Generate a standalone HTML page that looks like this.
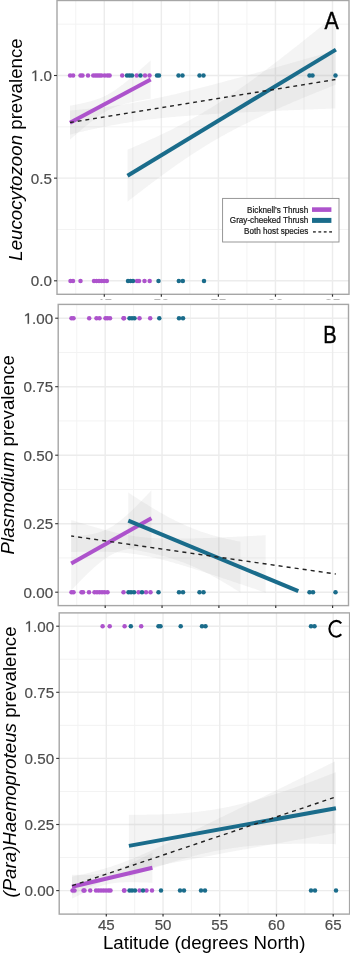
<!DOCTYPE html>
<html><head><meta charset="utf-8"><style>
html,body{margin:0;padding:0;background:#fff;}
svg{display:block;will-change:transform;filter:blur(0.3px);}
text{font-family:"Liberation Sans",sans-serif;}
</style></head><body>
<svg width="350" height="953" viewBox="0 0 350 953">
<rect width="350" height="953" fill="#fff"/>
<clipPath id="clipA"><rect x="57.0" y="0.5" width="292.0" height="293.8"/></clipPath>
<g clip-path="url(#clipA)">
<line x1="75.78" y1="0.5" x2="75.78" y2="294.3" stroke="#F3F3F3" stroke-width="1.0"/>
<line x1="132.82" y1="0.5" x2="132.82" y2="294.3" stroke="#F3F3F3" stroke-width="1.0"/>
<line x1="189.88" y1="0.5" x2="189.88" y2="294.3" stroke="#F3F3F3" stroke-width="1.0"/>
<line x1="246.93" y1="0.5" x2="246.93" y2="294.3" stroke="#F3F3F3" stroke-width="1.0"/>
<line x1="303.98" y1="0.5" x2="303.98" y2="294.3" stroke="#F3F3F3" stroke-width="1.0"/>
<line x1="57.0" y1="229.48" x2="349.0" y2="229.48" stroke="#F3F3F3" stroke-width="1.0"/>
<line x1="57.0" y1="126.82" x2="349.0" y2="126.82" stroke="#F3F3F3" stroke-width="1.0"/>
<line x1="57.0" y1="24.18" x2="349.0" y2="24.18" stroke="#F3F3F3" stroke-width="1.0"/>
<line x1="104.30" y1="0.5" x2="104.30" y2="294.3" stroke="#ECECEC" stroke-width="1.4"/>
<line x1="161.35" y1="0.5" x2="161.35" y2="294.3" stroke="#ECECEC" stroke-width="1.4"/>
<line x1="218.40" y1="0.5" x2="218.40" y2="294.3" stroke="#ECECEC" stroke-width="1.4"/>
<line x1="275.45" y1="0.5" x2="275.45" y2="294.3" stroke="#ECECEC" stroke-width="1.4"/>
<line x1="332.50" y1="0.5" x2="332.50" y2="294.3" stroke="#ECECEC" stroke-width="1.4"/>
<line x1="57.0" y1="280.80" x2="349.0" y2="280.80" stroke="#ECECEC" stroke-width="1.4"/>
<line x1="57.0" y1="178.15" x2="349.0" y2="178.15" stroke="#ECECEC" stroke-width="1.4"/>
<line x1="57.0" y1="75.50" x2="349.0" y2="75.50" stroke="#ECECEC" stroke-width="1.4"/>
<path d="M70.0,105.7 L70.4,105.6 L70.8,105.6 L71.2,105.5 L71.6,105.4 L72.0,105.3 L72.4,105.3 L72.8,105.2 L73.2,105.1 L73.6,105.0 L74.0,105.0 L74.4,104.9 L74.8,104.8 L75.2,104.7 L75.6,104.6 L76.1,104.6 L76.5,104.5 L76.9,104.4 L77.3,104.3 L77.7,104.2 L78.1,104.2 L78.5,104.1 L78.9,104.0 L79.3,103.9 L79.7,103.8 L80.1,103.7 L80.5,103.7 L80.9,103.6 L81.3,103.5 L81.7,103.4 L82.1,103.3 L82.5,103.2 L82.9,103.1 L83.3,103.0 L83.7,103.0 L84.1,102.9 L84.5,102.8 L84.9,102.7 L85.3,102.6 L85.7,102.5 L86.1,102.4 L86.5,102.3 L86.9,102.2 L87.4,102.1 L87.8,102.0 L88.2,101.9 L88.6,101.8 L89.0,101.7 L89.4,101.6 L89.8,101.5 L90.2,101.4 L90.6,101.2 L91.0,101.1 L91.4,101.0 L91.8,100.9 L92.2,100.8 L92.6,100.7 L93.0,100.6 L93.4,100.4 L93.8,100.3 L94.2,100.2 L94.6,100.1 L95.0,99.9 L95.4,99.8 L95.8,99.7 L96.2,99.5 L96.6,99.4 L97.0,99.3 L97.4,99.1 L97.8,99.0 L98.2,98.8 L98.6,98.7 L99.1,98.5 L99.5,98.4 L99.9,98.2 L100.3,98.1 L100.7,97.9 L101.1,97.7 L101.5,97.6 L101.9,97.4 L102.3,97.2 L102.7,97.0 L103.1,96.9 L103.5,96.7 L103.9,96.5 L104.3,96.3 L104.7,96.1 L105.1,95.9 L105.5,95.7 L105.9,95.5 L106.3,95.3 L106.7,95.1 L107.1,94.9 L107.5,94.7 L107.9,94.5 L108.3,94.2 L108.7,94.0 L109.1,93.8 L109.5,93.6 L109.9,93.3 L110.3,93.1 L110.8,92.8 L111.2,92.6 L111.6,92.3 L112.0,92.1 L112.4,91.8 L112.8,91.6 L113.2,91.3 L113.6,91.1 L114.0,90.8 L114.4,90.5 L114.8,90.3 L115.2,90.0 L115.6,89.7 L116.0,89.4 L116.4,89.2 L116.8,88.9 L117.2,88.6 L117.6,88.3 L118.0,88.0 L118.4,87.7 L118.8,87.4 L119.2,87.1 L119.6,86.8 L120.0,86.5 L120.4,86.2 L120.8,85.9 L121.2,85.6 L121.6,85.3 L122.1,85.0 L122.5,84.7 L122.9,84.4 L123.3,84.0 L123.7,83.7 L124.1,83.4 L124.5,83.1 L124.9,82.8 L125.3,82.4 L125.7,82.1 L126.1,81.8 L126.5,81.5 L126.9,81.1 L127.3,80.8 L127.7,80.5 L128.1,80.1 L128.5,79.8 L128.9,79.5 L129.3,79.1 L129.7,78.8 L130.1,78.5 L130.5,78.1 L130.9,77.8 L131.3,77.4 L131.7,77.1 L132.1,76.8 L132.5,76.4 L132.9,76.1 L133.3,75.7 L133.8,75.4 L134.2,75.0 L134.6,74.7 L135.0,74.3 L135.4,74.0 L135.8,73.6 L136.2,73.3 L136.6,72.9 L137.0,72.6 L137.4,72.2 L137.8,71.9 L138.2,71.5 L138.6,71.2 L139.0,70.8 L139.4,70.5 L139.8,70.1 L140.2,69.8 L140.6,69.4 L141.0,69.1 L141.4,68.7 L141.8,68.3 L142.2,68.0 L142.6,67.6 L143.0,67.3 L143.4,66.9 L143.8,66.6 L144.2,66.2 L144.6,65.8 L145.1,65.5 L145.5,65.1 L145.9,64.8 L146.3,64.4 L146.7,64.0 L147.1,63.7 L147.5,63.3 L147.9,63.0 L148.3,62.6 L148.7,62.2 L149.1,61.9 L149.5,61.5 L149.9,61.2 L150.3,60.8 L150.7,60.4 L150.7,98.6 L150.3,98.6 L149.9,98.7 L149.5,98.8 L149.1,98.9 L148.7,98.9 L148.3,99.0 L147.9,99.1 L147.5,99.1 L147.1,99.2 L146.7,99.3 L146.3,99.3 L145.9,99.4 L145.5,99.5 L145.1,99.6 L144.6,99.6 L144.2,99.7 L143.8,99.8 L143.4,99.9 L143.0,99.9 L142.6,100.0 L142.2,100.1 L141.8,100.2 L141.4,100.2 L141.0,100.3 L140.6,100.4 L140.2,100.5 L139.8,100.5 L139.4,100.6 L139.0,100.7 L138.6,100.8 L138.2,100.9 L137.8,100.9 L137.4,101.0 L137.0,101.1 L136.6,101.2 L136.2,101.3 L135.8,101.3 L135.4,101.4 L135.0,101.5 L134.6,101.6 L134.2,101.7 L133.8,101.8 L133.3,101.9 L132.9,101.9 L132.5,102.0 L132.1,102.1 L131.7,102.2 L131.3,102.3 L130.9,102.4 L130.5,102.5 L130.1,102.6 L129.7,102.7 L129.3,102.8 L128.9,102.9 L128.5,103.0 L128.1,103.1 L127.7,103.2 L127.3,103.3 L126.9,103.4 L126.5,103.5 L126.1,103.6 L125.7,103.7 L125.3,103.8 L124.9,103.9 L124.5,104.0 L124.1,104.1 L123.7,104.2 L123.3,104.3 L122.9,104.5 L122.5,104.6 L122.1,104.7 L121.6,104.8 L121.2,104.9 L120.8,105.1 L120.4,105.2 L120.0,105.3 L119.6,105.4 L119.2,105.6 L118.8,105.7 L118.4,105.9 L118.0,106.0 L117.6,106.1 L117.2,106.3 L116.8,106.4 L116.4,106.6 L116.0,106.7 L115.6,106.9 L115.2,107.0 L114.8,107.2 L114.4,107.3 L114.0,107.5 L113.6,107.7 L113.2,107.8 L112.8,108.0 L112.4,108.2 L112.0,108.4 L111.6,108.6 L111.2,108.7 L110.8,108.9 L110.3,109.1 L109.9,109.3 L109.5,109.5 L109.1,109.7 L108.7,109.9 L108.3,110.1 L107.9,110.3 L107.5,110.5 L107.1,110.8 L106.7,111.0 L106.3,111.2 L105.9,111.4 L105.5,111.7 L105.1,111.9 L104.7,112.1 L104.3,112.4 L103.9,112.6 L103.5,112.9 L103.1,113.1 L102.7,113.4 L102.3,113.6 L101.9,113.9 L101.5,114.1 L101.1,114.4 L100.7,114.7 L100.3,114.9 L99.9,115.2 L99.5,115.5 L99.1,115.8 L98.6,116.1 L98.2,116.3 L97.8,116.6 L97.4,116.9 L97.0,117.2 L96.6,117.5 L96.2,117.8 L95.8,118.1 L95.4,118.4 L95.0,118.7 L94.6,119.0 L94.2,119.3 L93.8,119.6 L93.4,119.9 L93.0,120.2 L92.6,120.5 L92.2,120.8 L91.8,121.2 L91.4,121.5 L91.0,121.8 L90.6,122.1 L90.2,122.4 L89.8,122.8 L89.4,123.1 L89.0,123.4 L88.6,123.7 L88.2,124.1 L87.8,124.4 L87.4,124.7 L86.9,125.1 L86.5,125.4 L86.1,125.7 L85.7,126.1 L85.3,126.4 L84.9,126.7 L84.5,127.1 L84.1,127.4 L83.7,127.8 L83.3,128.1 L82.9,128.4 L82.5,128.8 L82.1,129.1 L81.7,129.5 L81.3,129.8 L80.9,130.2 L80.5,130.5 L80.1,130.9 L79.7,131.2 L79.3,131.5 L78.9,131.9 L78.5,132.2 L78.1,132.6 L77.7,132.9 L77.3,133.3 L76.9,133.7 L76.5,134.0 L76.1,134.4 L75.6,134.7 L75.2,135.1 L74.8,135.4 L74.4,135.8 L74.0,136.1 L73.6,136.5 L73.2,136.8 L72.8,137.2 L72.4,137.6 L72.0,137.9 L71.6,138.3 L71.2,138.6 L70.8,139.0 L70.4,139.3 L70.0,139.7 Z " fill="#999999" fill-opacity="0.105"/>
<path d="M127.5,149.7 L128.5,149.3 L129.6,148.8 L130.6,148.4 L131.7,147.9 L132.7,147.5 L133.8,147.0 L134.8,146.6 L135.8,146.1 L136.9,145.6 L137.9,145.2 L139.0,144.7 L140.0,144.3 L141.0,143.8 L142.1,143.3 L143.1,142.9 L144.2,142.4 L145.2,142.0 L146.3,141.5 L147.3,141.0 L148.3,140.5 L149.4,140.1 L150.4,139.6 L151.5,139.1 L152.5,138.6 L153.6,138.2 L154.6,137.7 L155.6,137.2 L156.7,136.7 L157.7,136.2 L158.8,135.7 L159.8,135.2 L160.8,134.7 L161.9,134.3 L162.9,133.8 L164.0,133.3 L165.0,132.8 L166.1,132.2 L167.1,131.7 L168.1,131.2 L169.2,130.7 L170.2,130.2 L171.3,129.7 L172.3,129.2 L173.3,128.7 L174.4,128.1 L175.4,127.6 L176.5,127.1 L177.5,126.5 L178.6,126.0 L179.6,125.5 L180.6,124.9 L181.7,124.4 L182.7,123.8 L183.8,123.3 L184.8,122.7 L185.9,122.2 L186.9,121.6 L187.9,121.1 L189.0,120.5 L190.0,119.9 L191.1,119.4 L192.1,118.8 L193.1,118.2 L194.2,117.6 L195.2,117.0 L196.3,116.5 L197.3,115.9 L198.4,115.3 L199.4,114.7 L200.4,114.1 L201.5,113.5 L202.5,112.9 L203.6,112.3 L204.6,111.6 L205.6,111.0 L206.7,110.4 L207.7,109.8 L208.8,109.1 L209.8,108.5 L210.9,107.9 L211.9,107.2 L212.9,106.6 L214.0,105.9 L215.0,105.3 L216.1,104.6 L217.1,104.0 L218.2,103.3 L219.2,102.7 L220.2,102.0 L221.3,101.3 L222.3,100.6 L223.4,100.0 L224.4,99.3 L225.4,98.6 L226.5,97.9 L227.5,97.2 L228.6,96.5 L229.6,95.8 L230.7,95.1 L231.7,94.4 L232.7,93.7 L233.8,93.0 L234.8,92.3 L235.9,91.6 L236.9,90.8 L238.0,90.1 L239.0,89.4 L240.0,88.7 L241.1,87.9 L242.1,87.2 L243.2,86.5 L244.2,85.7 L245.2,85.0 L246.3,84.2 L247.3,83.5 L248.4,82.8 L249.4,82.0 L250.5,81.3 L251.5,80.5 L252.5,79.7 L253.6,79.0 L254.6,78.2 L255.7,77.5 L256.7,76.7 L257.8,75.9 L258.8,75.1 L259.8,74.4 L260.9,73.6 L261.9,72.8 L263.0,72.0 L264.0,71.3 L265.0,70.5 L266.1,69.7 L267.1,68.9 L268.2,68.1 L269.2,67.3 L270.3,66.5 L271.3,65.8 L272.3,65.0 L273.4,64.2 L274.4,63.4 L275.5,62.6 L276.5,61.8 L277.5,61.0 L278.6,60.2 L279.6,59.4 L280.7,58.6 L281.7,57.8 L282.8,56.9 L283.8,56.1 L284.8,55.3 L285.9,54.5 L286.9,53.7 L288.0,52.9 L289.0,52.1 L290.1,51.3 L291.1,50.4 L292.1,49.6 L293.2,48.8 L294.2,48.0 L295.3,47.2 L296.3,46.4 L297.3,45.5 L298.4,44.7 L299.4,43.9 L300.5,43.1 L301.5,42.2 L302.6,41.4 L303.6,40.6 L304.6,39.7 L305.7,38.9 L306.7,38.1 L307.8,37.3 L308.8,36.4 L309.8,35.6 L310.9,34.8 L311.9,33.9 L313.0,33.1 L314.0,32.3 L315.1,31.4 L316.1,30.6 L317.1,29.8 L318.2,28.9 L319.2,28.1 L320.3,27.2 L321.3,26.4 L322.4,25.6 L323.4,24.7 L324.4,23.9 L325.5,23.0 L326.5,22.2 L327.6,21.4 L328.6,20.5 L329.6,19.7 L330.7,18.8 L331.7,18.0 L332.8,17.1 L333.8,16.3 L334.9,15.4 L335.9,14.6 L335.9,84.6 L334.9,85.0 L333.8,85.4 L332.8,85.8 L331.7,86.3 L330.7,86.7 L329.6,87.1 L328.6,87.5 L327.6,87.9 L326.5,88.4 L325.5,88.8 L324.4,89.2 L323.4,89.6 L322.4,90.0 L321.3,90.5 L320.3,90.9 L319.2,91.3 L318.2,91.7 L317.1,92.1 L316.1,92.6 L315.1,93.0 L314.0,93.4 L313.0,93.8 L311.9,94.3 L310.9,94.7 L309.8,95.1 L308.8,95.6 L307.8,96.0 L306.7,96.4 L305.7,96.8 L304.6,97.3 L303.6,97.7 L302.6,98.1 L301.5,98.6 L300.5,99.0 L299.4,99.5 L298.4,99.9 L297.3,100.3 L296.3,100.8 L295.3,101.2 L294.2,101.6 L293.2,102.1 L292.1,102.5 L291.1,103.0 L290.1,103.4 L289.0,103.9 L288.0,104.3 L286.9,104.8 L285.9,105.2 L284.8,105.7 L283.8,106.1 L282.8,106.6 L281.7,107.0 L280.7,107.5 L279.6,107.9 L278.6,108.4 L277.5,108.8 L276.5,109.3 L275.5,109.8 L274.4,110.2 L273.4,110.7 L272.3,111.2 L271.3,111.6 L270.3,112.1 L269.2,112.6 L268.2,113.0 L267.1,113.5 L266.1,114.0 L265.0,114.5 L264.0,114.9 L263.0,115.4 L261.9,115.9 L260.9,116.4 L259.8,116.9 L258.8,117.4 L257.8,117.9 L256.7,118.4 L255.7,118.8 L254.6,119.3 L253.6,119.8 L252.5,120.3 L251.5,120.8 L250.5,121.4 L249.4,121.9 L248.4,122.4 L247.3,122.9 L246.3,123.4 L245.2,123.9 L244.2,124.4 L243.2,125.0 L242.1,125.5 L241.1,126.0 L240.0,126.5 L239.0,127.1 L238.0,127.6 L236.9,128.1 L235.9,128.7 L234.8,129.2 L233.8,129.8 L232.7,130.3 L231.7,130.9 L230.7,131.4 L229.6,132.0 L228.6,132.6 L227.5,133.1 L226.5,133.7 L225.4,134.3 L224.4,134.9 L223.4,135.4 L222.3,136.0 L221.3,136.6 L220.2,137.2 L219.2,137.8 L218.2,138.4 L217.1,139.0 L216.1,139.6 L215.0,140.2 L214.0,140.8 L212.9,141.4 L211.9,142.0 L210.9,142.6 L209.8,143.3 L208.8,143.9 L207.7,144.5 L206.7,145.2 L205.6,145.8 L204.6,146.4 L203.6,147.1 L202.5,147.7 L201.5,148.4 L200.4,149.1 L199.4,149.7 L198.4,150.4 L197.3,151.0 L196.3,151.7 L195.2,152.4 L194.2,153.1 L193.1,153.7 L192.1,154.4 L191.1,155.1 L190.0,155.8 L189.0,156.5 L187.9,157.2 L186.9,157.9 L185.9,158.6 L184.8,159.3 L183.8,160.0 L182.7,160.7 L181.7,161.4 L180.6,162.2 L179.6,162.9 L178.6,163.6 L177.5,164.3 L176.5,165.1 L175.4,165.8 L174.4,166.5 L173.3,167.3 L172.3,168.0 L171.3,168.7 L170.2,169.5 L169.2,170.2 L168.1,171.0 L167.1,171.7 L166.1,172.5 L165.0,173.3 L164.0,174.0 L162.9,174.8 L161.9,175.5 L160.8,176.3 L159.8,177.1 L158.8,177.8 L157.7,178.6 L156.7,179.4 L155.6,180.2 L154.6,180.9 L153.6,181.7 L152.5,182.5 L151.5,183.3 L150.4,184.1 L149.4,184.9 L148.3,185.6 L147.3,186.4 L146.3,187.2 L145.2,188.0 L144.2,188.8 L143.1,189.6 L142.1,190.4 L141.0,191.2 L140.0,192.0 L139.0,192.8 L137.9,193.6 L136.9,194.4 L135.8,195.2 L134.8,196.0 L133.8,196.8 L132.7,197.6 L131.7,198.4 L130.6,199.3 L129.6,200.1 L128.5,200.9 L127.5,201.7 Z " fill="#999999" fill-opacity="0.105"/>
<path d="M70.0,110.5 L71.3,110.4 L72.7,110.3 L74.0,110.2 L75.3,110.1 L76.6,109.9 L78.0,109.8 L79.3,109.7 L80.6,109.6 L81.9,109.5 L83.3,109.3 L84.6,109.2 L85.9,109.1 L87.3,109.0 L88.6,108.8 L89.9,108.7 L91.2,108.6 L92.6,108.4 L93.9,108.3 L95.2,108.1 L96.5,108.0 L97.9,107.8 L99.2,107.7 L100.5,107.5 L101.8,107.4 L103.2,107.2 L104.5,107.1 L105.8,106.9 L107.2,106.7 L108.5,106.6 L109.8,106.4 L111.1,106.2 L112.5,106.0 L113.8,105.8 L115.1,105.7 L116.4,105.5 L117.8,105.3 L119.1,105.1 L120.4,104.9 L121.8,104.7 L123.1,104.5 L124.4,104.3 L125.7,104.1 L127.1,103.8 L128.4,103.6 L129.7,103.4 L131.0,103.2 L132.4,103.0 L133.7,102.7 L135.0,102.5 L136.3,102.3 L137.7,102.0 L139.0,101.8 L140.3,101.5 L141.7,101.3 L143.0,101.0 L144.3,100.8 L145.6,100.5 L147.0,100.2 L148.3,100.0 L149.6,99.7 L150.9,99.4 L152.3,99.2 L153.6,98.9 L154.9,98.6 L156.3,98.3 L157.6,98.1 L158.9,97.8 L160.2,97.5 L161.6,97.2 L162.9,96.9 L164.2,96.6 L165.5,96.3 L166.9,96.0 L168.2,95.7 L169.5,95.4 L170.9,95.1 L172.2,94.8 L173.5,94.5 L174.8,94.2 L176.2,93.9 L177.5,93.5 L178.8,93.2 L180.1,92.9 L181.5,92.6 L182.8,92.3 L184.1,91.9 L185.4,91.6 L186.8,91.3 L188.1,91.0 L189.4,90.6 L190.8,90.3 L192.1,90.0 L193.4,89.6 L194.7,89.3 L196.1,89.0 L197.4,88.6 L198.7,88.3 L200.0,88.0 L201.4,87.6 L202.7,87.3 L204.0,86.9 L205.4,86.6 L206.7,86.2 L208.0,85.9 L209.3,85.6 L210.7,85.2 L212.0,84.9 L213.3,84.5 L214.6,84.2 L216.0,83.8 L217.3,83.5 L218.6,83.1 L220.0,82.8 L221.3,82.4 L222.6,82.0 L223.9,81.7 L225.3,81.3 L226.6,81.0 L227.9,80.6 L229.2,80.3 L230.6,79.9 L231.9,79.5 L233.2,79.2 L234.5,78.8 L235.9,78.5 L237.2,78.1 L238.5,77.7 L239.9,77.4 L241.2,77.0 L242.5,76.7 L243.8,76.3 L245.2,75.9 L246.5,75.6 L247.8,75.2 L249.1,74.8 L250.5,74.5 L251.8,74.1 L253.1,73.7 L254.5,73.4 L255.8,73.0 L257.1,72.6 L258.4,72.3 L259.8,71.9 L261.1,71.5 L262.4,71.2 L263.7,70.8 L265.1,70.4 L266.4,70.1 L267.7,69.7 L269.1,69.3 L270.4,68.9 L271.7,68.6 L273.0,68.2 L274.4,67.8 L275.7,67.5 L277.0,67.1 L278.3,66.7 L279.7,66.3 L281.0,66.0 L282.3,65.6 L283.6,65.2 L285.0,64.8 L286.3,64.5 L287.6,64.1 L289.0,63.7 L290.3,63.3 L291.6,63.0 L292.9,62.6 L294.3,62.2 L295.6,61.8 L296.9,61.5 L298.2,61.1 L299.6,60.7 L300.9,60.3 L302.2,60.0 L303.6,59.6 L304.9,59.2 L306.2,58.8 L307.5,58.5 L308.9,58.1 L310.2,57.7 L311.5,57.3 L312.8,57.0 L314.2,56.6 L315.5,56.2 L316.8,55.8 L318.1,55.4 L319.5,55.1 L320.8,54.7 L322.1,54.3 L323.5,53.9 L324.8,53.5 L326.1,53.2 L327.4,52.8 L328.8,52.4 L330.1,52.0 L331.4,51.7 L332.7,51.3 L334.1,50.9 L335.4,50.5 L335.4,108.5 L334.1,108.5 L332.7,108.6 L331.4,108.6 L330.1,108.7 L328.8,108.7 L327.4,108.8 L326.1,108.8 L324.8,108.9 L323.5,108.9 L322.1,109.0 L320.8,109.0 L319.5,109.1 L318.1,109.1 L316.8,109.2 L315.5,109.3 L314.2,109.3 L312.8,109.4 L311.5,109.4 L310.2,109.5 L308.9,109.5 L307.5,109.6 L306.2,109.6 L304.9,109.7 L303.6,109.7 L302.2,109.8 L300.9,109.8 L299.6,109.9 L298.2,109.9 L296.9,110.0 L295.6,110.1 L294.3,110.1 L292.9,110.2 L291.6,110.2 L290.3,110.3 L289.0,110.3 L287.6,110.4 L286.3,110.4 L285.0,110.5 L283.6,110.6 L282.3,110.6 L281.0,110.7 L279.7,110.7 L278.3,110.8 L277.0,110.8 L275.7,110.9 L274.4,111.0 L273.0,111.0 L271.7,111.1 L270.4,111.1 L269.1,111.2 L267.7,111.2 L266.4,111.3 L265.1,111.4 L263.7,111.4 L262.4,111.5 L261.1,111.5 L259.8,111.6 L258.4,111.7 L257.1,111.7 L255.8,111.8 L254.5,111.9 L253.1,111.9 L251.8,112.0 L250.5,112.0 L249.1,112.1 L247.8,112.2 L246.5,112.2 L245.2,112.3 L243.8,112.4 L242.5,112.4 L241.2,112.5 L239.9,112.6 L238.5,112.6 L237.2,112.7 L235.9,112.8 L234.5,112.9 L233.2,112.9 L231.9,113.0 L230.6,113.1 L229.2,113.1 L227.9,113.2 L226.6,113.3 L225.3,113.4 L223.9,113.4 L222.6,113.5 L221.3,113.6 L220.0,113.7 L218.6,113.7 L217.3,113.8 L216.0,113.9 L214.6,114.0 L213.3,114.0 L212.0,114.1 L210.7,114.2 L209.3,114.3 L208.0,114.4 L206.7,114.5 L205.4,114.5 L204.0,114.6 L202.7,114.7 L201.4,114.8 L200.0,114.9 L198.7,115.0 L197.4,115.1 L196.1,115.2 L194.7,115.3 L193.4,115.4 L192.1,115.5 L190.8,115.6 L189.4,115.7 L188.1,115.8 L186.8,115.9 L185.4,116.0 L184.1,116.1 L182.8,116.2 L181.5,116.3 L180.1,116.4 L178.8,116.5 L177.5,116.6 L176.2,116.7 L174.8,116.9 L173.5,117.0 L172.2,117.1 L170.9,117.2 L169.5,117.3 L168.2,117.5 L166.9,117.6 L165.5,117.7 L164.2,117.9 L162.9,118.0 L161.6,118.1 L160.2,118.3 L158.9,118.4 L157.6,118.6 L156.3,118.7 L154.9,118.9 L153.6,119.0 L152.3,119.2 L150.9,119.3 L149.6,119.5 L148.3,119.6 L147.0,119.8 L145.6,120.0 L144.3,120.2 L143.0,120.3 L141.7,120.5 L140.3,120.7 L139.0,120.9 L137.7,121.1 L136.3,121.2 L135.0,121.4 L133.7,121.6 L132.4,121.8 L131.0,122.0 L129.7,122.2 L128.4,122.5 L127.1,122.7 L125.7,122.9 L124.4,123.1 L123.1,123.3 L121.8,123.6 L120.4,123.8 L119.1,124.0 L117.8,124.2 L116.4,124.5 L115.1,124.7 L113.8,125.0 L112.5,125.2 L111.1,125.5 L109.8,125.7 L108.5,126.0 L107.2,126.2 L105.8,126.5 L104.5,126.8 L103.2,127.0 L101.8,127.3 L100.5,127.6 L99.2,127.9 L97.9,128.1 L96.5,128.4 L95.2,128.7 L93.9,129.0 L92.6,129.3 L91.2,129.6 L89.9,129.9 L88.6,130.1 L87.3,130.4 L85.9,130.7 L84.6,131.0 L83.3,131.4 L81.9,131.7 L80.6,132.0 L79.3,132.3 L78.0,132.6 L76.6,132.9 L75.3,133.2 L74.0,133.5 L72.7,133.9 L71.3,134.2 L70.0,134.5 Z " fill="#999999" fill-opacity="0.105"/>
<circle cx="70.1" cy="75.5" r="2.25" fill="#AD53CC"/>
<circle cx="73.1" cy="75.5" r="2.25" fill="#AD53CC"/>
<circle cx="80.5" cy="75.5" r="2.25" fill="#AD53CC"/>
<circle cx="82.5" cy="75.5" r="2.25" fill="#AD53CC"/>
<circle cx="88" cy="75.5" r="2.25" fill="#AD53CC"/>
<circle cx="93.3" cy="75.5" r="2.25" fill="#AD53CC"/>
<circle cx="95.5" cy="75.5" r="2.25" fill="#AD53CC"/>
<circle cx="97.5" cy="75.5" r="2.25" fill="#AD53CC"/>
<circle cx="99.5" cy="75.5" r="2.25" fill="#AD53CC"/>
<circle cx="101.5" cy="75.5" r="2.25" fill="#AD53CC"/>
<circle cx="104.7" cy="75.5" r="2.25" fill="#AD53CC"/>
<circle cx="107.5" cy="75.5" r="2.25" fill="#AD53CC"/>
<circle cx="109.6" cy="75.5" r="2.25" fill="#AD53CC"/>
<circle cx="122.2" cy="75.5" r="2.25" fill="#AD53CC"/>
<circle cx="136.7" cy="75.5" r="2.25" fill="#AD53CC"/>
<circle cx="145" cy="75.5" r="2.25" fill="#AD53CC"/>
<circle cx="149.5" cy="75.5" r="2.25" fill="#AD53CC"/>
<circle cx="127" cy="75.5" r="2.25" fill="#1A6C8B"/>
<circle cx="129.5" cy="75.5" r="2.25" fill="#1A6C8B"/>
<circle cx="132" cy="75.5" r="2.25" fill="#1A6C8B"/>
<circle cx="140.5" cy="75.5" r="2.25" fill="#1A6C8B"/>
<circle cx="157" cy="75.5" r="2.25" fill="#1A6C8B"/>
<circle cx="159" cy="75.5" r="2.25" fill="#1A6C8B"/>
<circle cx="178.5" cy="75.5" r="2.25" fill="#1A6C8B"/>
<circle cx="182.5" cy="75.5" r="2.25" fill="#1A6C8B"/>
<circle cx="199.5" cy="75.5" r="2.25" fill="#1A6C8B"/>
<circle cx="203.5" cy="75.5" r="2.25" fill="#1A6C8B"/>
<circle cx="309.5" cy="75.5" r="2.25" fill="#1A6C8B"/>
<circle cx="312.5" cy="75.5" r="2.25" fill="#1A6C8B"/>
<circle cx="335.5" cy="75.5" r="2.25" fill="#1A6C8B"/>
<circle cx="70.5" cy="280.9" r="2.25" fill="#AD53CC"/>
<circle cx="73" cy="280.9" r="2.25" fill="#AD53CC"/>
<circle cx="80.5" cy="280.9" r="2.25" fill="#AD53CC"/>
<circle cx="94" cy="280.9" r="2.25" fill="#AD53CC"/>
<circle cx="96.5" cy="280.9" r="2.25" fill="#AD53CC"/>
<circle cx="99" cy="280.9" r="2.25" fill="#AD53CC"/>
<circle cx="101.5" cy="280.9" r="2.25" fill="#AD53CC"/>
<circle cx="104" cy="280.9" r="2.25" fill="#AD53CC"/>
<circle cx="106.8" cy="280.9" r="2.25" fill="#AD53CC"/>
<circle cx="137" cy="280.9" r="2.25" fill="#AD53CC"/>
<circle cx="139" cy="280.9" r="2.25" fill="#AD53CC"/>
<circle cx="144.5" cy="280.9" r="2.25" fill="#AD53CC"/>
<circle cx="149.7" cy="280.9" r="2.25" fill="#AD53CC"/>
<circle cx="128" cy="280.9" r="2.25" fill="#1A6C8B"/>
<circle cx="130.5" cy="280.9" r="2.25" fill="#1A6C8B"/>
<circle cx="133" cy="280.9" r="2.25" fill="#1A6C8B"/>
<circle cx="158.5" cy="280.9" r="2.25" fill="#1A6C8B"/>
<circle cx="178.8" cy="280.9" r="2.25" fill="#1A6C8B"/>
<circle cx="182.8" cy="280.9" r="2.25" fill="#1A6C8B"/>
<circle cx="204" cy="280.9" r="2.25" fill="#1A6C8B"/>
<line x1="70" y1="122.7" x2="150.7" y2="79.5" stroke="#AD53CC" stroke-width="4.0"/>
<line x1="127.5" y1="175.7" x2="335.9" y2="49.6" stroke="#1A6C8B" stroke-width="4.0"/>
<line x1="70" y1="122.5" x2="335.4" y2="79.5" stroke="#222" stroke-width="1.4" stroke-dasharray="3.9,3.9" stroke-dashoffset="0"/>
</g>
<rect x="57.0" y="0.5" width="292.0" height="293.8" fill="none" stroke="#A6A6A6" stroke-width="1.4"/>
<line x1="54.0" y1="280.80" x2="57.0" y2="280.80" stroke="#333" stroke-width="1.1"/>
<text x="30.87" y="286.30" font-size="15.2" fill="#4D4D4D" stroke="#4D4D4D" stroke-width="0.2">0.0</text>
<line x1="54.0" y1="178.15" x2="57.0" y2="178.15" stroke="#333" stroke-width="1.1"/>
<text x="30.87" y="183.65" font-size="15.2" fill="#4D4D4D" stroke="#4D4D4D" stroke-width="0.2">0.5</text>
<line x1="54.0" y1="75.50" x2="57.0" y2="75.50" stroke="#333" stroke-width="1.1"/>
<text x="30.87" y="81.00" font-size="15.2" fill="#4D4D4D" stroke="#4D4D4D" stroke-width="0.2"> .0</text><path transform="translate(30.87,81.00) scale(0.00742,-0.00742)" d="M540,0 L540,1180 L210,1000 L210,1165 L570,1409 L725,1409 L725,0 Z" fill="#4D4D4D" stroke="#4D4D4D" stroke-width="26.9"/>
<line x1="104.30" y1="294.3" x2="104.30" y2="296.7" stroke="#333" stroke-width="1.2"/>
<line x1="161.35" y1="294.3" x2="161.35" y2="296.7" stroke="#333" stroke-width="1.2"/>
<line x1="218.40" y1="294.3" x2="218.40" y2="296.7" stroke="#333" stroke-width="1.2"/>
<line x1="275.45" y1="294.3" x2="275.45" y2="296.7" stroke="#333" stroke-width="1.2"/>
<line x1="332.50" y1="294.3" x2="332.50" y2="296.7" stroke="#333" stroke-width="1.2"/>
<text transform="translate(21.8,149.5) rotate(-90)" font-size="18.7" fill="#000" text-anchor="middle"><tspan font-style="italic">Leucocytozoon</tspan> prevalence</text>
<text transform="translate(324.5,28.8) scale(0.9,1)" font-size="23.8" fill="#000" stroke="#000" stroke-width="0.4">A</text>
<clipPath id="clipB"><rect x="58.2" y="304.4" width="290.3" height="301.20000000000005"/></clipPath>
<g clip-path="url(#clipB)">
<line x1="76.78" y1="304.4" x2="76.78" y2="605.6" stroke="#F3F3F3" stroke-width="1.0"/>
<line x1="133.62" y1="304.4" x2="133.62" y2="605.6" stroke="#F3F3F3" stroke-width="1.0"/>
<line x1="190.48" y1="304.4" x2="190.48" y2="605.6" stroke="#F3F3F3" stroke-width="1.0"/>
<line x1="247.33" y1="304.4" x2="247.33" y2="605.6" stroke="#F3F3F3" stroke-width="1.0"/>
<line x1="304.18" y1="304.4" x2="304.18" y2="605.6" stroke="#F3F3F3" stroke-width="1.0"/>
<line x1="58.2" y1="557.95" x2="348.5" y2="557.95" stroke="#F3F3F3" stroke-width="1.0"/>
<line x1="58.2" y1="489.45" x2="348.5" y2="489.45" stroke="#F3F3F3" stroke-width="1.0"/>
<line x1="58.2" y1="420.95" x2="348.5" y2="420.95" stroke="#F3F3F3" stroke-width="1.0"/>
<line x1="58.2" y1="352.45" x2="348.5" y2="352.45" stroke="#F3F3F3" stroke-width="1.0"/>
<line x1="105.20" y1="304.4" x2="105.20" y2="605.6" stroke="#ECECEC" stroke-width="1.4"/>
<line x1="162.05" y1="304.4" x2="162.05" y2="605.6" stroke="#ECECEC" stroke-width="1.4"/>
<line x1="218.90" y1="304.4" x2="218.90" y2="605.6" stroke="#ECECEC" stroke-width="1.4"/>
<line x1="275.75" y1="304.4" x2="275.75" y2="605.6" stroke="#ECECEC" stroke-width="1.4"/>
<line x1="332.60" y1="304.4" x2="332.60" y2="605.6" stroke="#ECECEC" stroke-width="1.4"/>
<line x1="58.2" y1="592.20" x2="348.5" y2="592.20" stroke="#ECECEC" stroke-width="1.4"/>
<line x1="58.2" y1="523.70" x2="348.5" y2="523.70" stroke="#ECECEC" stroke-width="1.4"/>
<line x1="58.2" y1="455.20" x2="348.5" y2="455.20" stroke="#ECECEC" stroke-width="1.4"/>
<line x1="58.2" y1="386.70" x2="348.5" y2="386.70" stroke="#ECECEC" stroke-width="1.4"/>
<line x1="58.2" y1="318.20" x2="348.5" y2="318.20" stroke="#ECECEC" stroke-width="1.4"/>
<path d="M71.2,536.5 L71.6,536.5 L72.0,536.5 L72.4,536.4 L72.8,536.4 L73.2,536.4 L73.6,536.3 L74.0,536.3 L74.4,536.3 L74.8,536.3 L75.2,536.2 L75.6,536.2 L76.0,536.2 L76.4,536.1 L76.8,536.1 L77.2,536.1 L77.6,536.0 L78.0,536.0 L78.4,536.0 L78.8,535.9 L79.2,535.9 L79.6,535.9 L80.0,535.8 L80.4,535.8 L80.8,535.7 L81.2,535.7 L81.6,535.7 L82.0,535.6 L82.4,535.6 L82.8,535.5 L83.2,535.5 L83.6,535.4 L84.0,535.4 L84.4,535.3 L84.8,535.3 L85.2,535.2 L85.6,535.2 L86.0,535.1 L86.4,535.0 L86.8,535.0 L87.2,534.9 L87.6,534.9 L88.0,534.8 L88.4,534.7 L88.8,534.7 L89.2,534.6 L89.6,534.5 L90.0,534.5 L90.4,534.4 L90.8,534.3 L91.2,534.2 L91.7,534.2 L92.1,534.1 L92.5,534.0 L92.9,533.9 L93.3,533.8 L93.7,533.7 L94.1,533.6 L94.5,533.6 L94.9,533.5 L95.3,533.4 L95.7,533.3 L96.1,533.2 L96.5,533.1 L96.9,532.9 L97.3,532.8 L97.7,532.7 L98.1,532.6 L98.5,532.5 L98.9,532.4 L99.3,532.2 L99.7,532.1 L100.1,532.0 L100.5,531.8 L100.9,531.7 L101.3,531.6 L101.7,531.4 L102.1,531.3 L102.5,531.1 L102.9,531.0 L103.3,530.8 L103.7,530.7 L104.1,530.5 L104.5,530.3 L104.9,530.2 L105.3,530.0 L105.7,529.8 L106.1,529.6 L106.5,529.4 L106.9,529.2 L107.3,529.0 L107.7,528.8 L108.1,528.6 L108.5,528.4 L108.9,528.2 L109.3,528.0 L109.7,527.8 L110.1,527.6 L110.5,527.4 L110.9,527.1 L111.3,526.9 L111.7,526.7 L112.1,526.4 L112.5,526.2 L112.9,525.9 L113.3,525.7 L113.7,525.4 L114.1,525.1 L114.5,524.9 L114.9,524.6 L115.3,524.3 L115.7,524.1 L116.1,523.8 L116.5,523.5 L116.9,523.2 L117.3,522.9 L117.7,522.6 L118.1,522.3 L118.5,522.0 L118.9,521.7 L119.3,521.4 L119.7,521.1 L120.1,520.8 L120.5,520.5 L120.9,520.1 L121.3,519.8 L121.7,519.5 L122.1,519.2 L122.5,518.8 L122.9,518.5 L123.3,518.2 L123.7,517.8 L124.1,517.5 L124.5,517.1 L124.9,516.8 L125.3,516.4 L125.7,516.1 L126.1,515.7 L126.5,515.4 L126.9,515.0 L127.3,514.6 L127.7,514.3 L128.1,513.9 L128.5,513.5 L128.9,513.2 L129.3,512.8 L129.7,512.4 L130.1,512.0 L130.5,511.7 L130.9,511.3 L131.3,510.9 L131.8,510.5 L132.2,510.1 L132.6,509.7 L133.0,509.3 L133.4,509.0 L133.8,508.6 L134.2,508.2 L134.6,507.8 L135.0,507.4 L135.4,507.0 L135.8,506.6 L136.2,506.2 L136.6,505.8 L137.0,505.4 L137.4,505.0 L137.8,504.6 L138.2,504.2 L138.6,503.8 L139.0,503.4 L139.4,502.9 L139.8,502.5 L140.2,502.1 L140.6,501.7 L141.0,501.3 L141.4,500.9 L141.8,500.5 L142.2,500.1 L142.6,499.6 L143.0,499.2 L143.4,498.8 L143.8,498.4 L144.2,498.0 L144.6,497.5 L145.0,497.1 L145.4,496.7 L145.8,496.3 L146.2,495.9 L146.6,495.4 L147.0,495.0 L147.4,494.6 L147.8,494.2 L148.2,493.7 L148.6,493.3 L149.0,492.9 L149.4,492.4 L149.8,492.0 L150.2,491.6 L150.6,491.2 L151.0,490.7 L151.4,490.3 L151.4,546.3 L151.0,546.3 L150.6,546.3 L150.2,546.4 L149.8,546.4 L149.4,546.4 L149.0,546.4 L148.6,546.5 L148.2,546.5 L147.8,546.5 L147.4,546.5 L147.0,546.6 L146.6,546.6 L146.2,546.6 L145.8,546.6 L145.4,546.7 L145.0,546.7 L144.6,546.7 L144.2,546.8 L143.8,546.8 L143.4,546.8 L143.0,546.9 L142.6,546.9 L142.2,546.9 L141.8,547.0 L141.4,547.0 L141.0,547.1 L140.6,547.1 L140.2,547.1 L139.8,547.2 L139.4,547.2 L139.0,547.3 L138.6,547.3 L138.2,547.3 L137.8,547.4 L137.4,547.4 L137.0,547.5 L136.6,547.5 L136.2,547.6 L135.8,547.6 L135.4,547.7 L135.0,547.8 L134.6,547.8 L134.2,547.9 L133.8,547.9 L133.4,548.0 L133.0,548.0 L132.6,548.1 L132.2,548.2 L131.8,548.2 L131.3,548.3 L130.9,548.4 L130.5,548.5 L130.1,548.5 L129.7,548.6 L129.3,548.7 L128.9,548.8 L128.5,548.8 L128.1,548.9 L127.7,549.0 L127.3,549.1 L126.9,549.2 L126.5,549.3 L126.1,549.4 L125.7,549.5 L125.3,549.6 L124.9,549.7 L124.5,549.8 L124.1,549.9 L123.7,550.0 L123.3,550.1 L122.9,550.2 L122.5,550.3 L122.1,550.4 L121.7,550.6 L121.3,550.7 L120.9,550.8 L120.5,550.9 L120.1,551.1 L119.7,551.2 L119.3,551.4 L118.9,551.5 L118.5,551.6 L118.1,551.8 L117.7,551.9 L117.3,552.1 L116.9,552.3 L116.5,552.4 L116.1,552.6 L115.7,552.8 L115.3,552.9 L114.9,553.1 L114.5,553.3 L114.1,553.5 L113.7,553.7 L113.3,553.9 L112.9,554.1 L112.5,554.3 L112.1,554.5 L111.7,554.7 L111.3,554.9 L110.9,555.1 L110.5,555.4 L110.1,555.6 L109.7,555.8 L109.3,556.0 L108.9,556.3 L108.5,556.5 L108.1,556.8 L107.7,557.0 L107.3,557.3 L106.9,557.5 L106.5,557.8 L106.1,558.1 L105.7,558.3 L105.3,558.6 L104.9,558.9 L104.5,559.2 L104.1,559.4 L103.7,559.7 L103.3,560.0 L102.9,560.3 L102.5,560.6 L102.1,560.9 L101.7,561.2 L101.3,561.5 L100.9,561.8 L100.5,562.2 L100.1,562.5 L99.7,562.8 L99.3,563.1 L98.9,563.4 L98.5,563.8 L98.1,564.1 L97.7,564.4 L97.3,564.8 L96.9,565.1 L96.5,565.5 L96.1,565.8 L95.7,566.2 L95.3,566.5 L94.9,566.9 L94.5,567.2 L94.1,567.6 L93.7,568.0 L93.3,568.3 L92.9,568.7 L92.5,569.0 L92.1,569.4 L91.7,569.8 L91.2,570.2 L90.8,570.5 L90.4,570.9 L90.0,571.3 L89.6,571.7 L89.2,572.1 L88.8,572.4 L88.4,572.8 L88.0,573.2 L87.6,573.6 L87.2,574.0 L86.8,574.4 L86.4,574.8 L86.0,575.2 L85.6,575.6 L85.2,576.0 L84.8,576.4 L84.4,576.8 L84.0,577.2 L83.6,577.6 L83.2,578.0 L82.8,578.4 L82.4,578.8 L82.0,579.2 L81.6,579.6 L81.2,580.0 L80.8,580.4 L80.4,580.8 L80.0,581.2 L79.6,581.6 L79.2,582.1 L78.8,582.5 L78.4,582.9 L78.0,583.3 L77.6,583.7 L77.2,584.1 L76.8,584.6 L76.4,585.0 L76.0,585.4 L75.6,585.8 L75.2,586.2 L74.8,586.7 L74.4,587.1 L74.0,587.5 L73.6,587.9 L73.2,588.4 L72.8,588.8 L72.4,589.2 L72.0,589.6 L71.6,590.1 L71.2,590.5 Z " fill="#999999" fill-opacity="0.105"/>
<path d="M128.3,492.6 L129.2,493.1 L130.0,493.7 L130.9,494.3 L131.7,494.8 L132.6,495.4 L133.4,495.9 L134.2,496.5 L135.1,497.0 L136.0,497.6 L136.8,498.1 L137.7,498.7 L138.5,499.2 L139.4,499.8 L140.2,500.3 L141.1,500.9 L141.9,501.4 L142.8,501.9 L143.6,502.5 L144.5,503.0 L145.3,503.5 L146.2,504.1 L147.0,504.6 L147.9,505.1 L148.7,505.7 L149.6,506.2 L150.4,506.7 L151.2,507.2 L152.1,507.7 L153.0,508.2 L153.8,508.7 L154.7,509.3 L155.5,509.8 L156.4,510.3 L157.2,510.8 L158.1,511.2 L158.9,511.7 L159.8,512.2 L160.6,512.7 L161.5,513.2 L162.3,513.7 L163.2,514.2 L164.0,514.6 L164.9,515.1 L165.7,515.6 L166.6,516.0 L167.4,516.5 L168.2,517.0 L169.1,517.4 L170.0,517.9 L170.8,518.3 L171.7,518.7 L172.5,519.2 L173.4,519.6 L174.2,520.1 L175.1,520.5 L175.9,520.9 L176.8,521.3 L177.6,521.7 L178.5,522.1 L179.3,522.6 L180.2,523.0 L181.0,523.4 L181.9,523.8 L182.7,524.1 L183.6,524.5 L184.4,524.9 L185.2,525.3 L186.1,525.7 L187.0,526.0 L187.8,526.4 L188.7,526.8 L189.5,527.1 L190.4,527.5 L191.2,527.8 L192.1,528.2 L192.9,528.5 L193.8,528.8 L194.6,529.2 L195.5,529.5 L196.3,529.8 L197.2,530.1 L198.0,530.4 L198.9,530.8 L199.7,531.1 L200.6,531.4 L201.4,531.7 L202.2,531.9 L203.1,532.2 L204.0,532.5 L204.8,532.8 L205.7,533.1 L206.5,533.3 L207.4,533.6 L208.2,533.9 L209.1,534.1 L209.9,534.4 L210.8,534.7 L211.6,534.9 L212.5,535.2 L213.3,535.4 L214.2,535.6 L215.0,535.9 L215.9,536.1 L216.7,536.3 L217.6,536.6 L218.4,536.8 L219.2,537.0 L220.1,537.2 L221.0,537.4 L221.8,537.6 L222.7,537.9 L223.5,538.1 L224.4,538.3 L225.2,538.5 L226.1,538.7 L226.9,538.9 L227.8,539.1 L228.6,539.2 L229.5,539.4 L230.3,539.6 L231.2,539.8 L232.0,540.0 L232.9,540.2 L233.7,540.3 L234.6,540.5 L235.4,540.7 L236.2,540.9 L237.1,541.0 L238.0,541.2 L238.8,541.4 L239.7,541.5 L240.5,541.7 L240.5,592.7 L239.7,592.1 L238.8,591.6 L238.0,591.0 L237.1,590.5 L236.2,590.0 L235.4,589.4 L234.6,588.9 L233.7,588.4 L232.9,587.8 L232.0,587.3 L231.2,586.8 L230.3,586.3 L229.5,585.7 L228.6,585.2 L227.8,584.7 L226.9,584.2 L226.1,583.7 L225.2,583.2 L224.4,582.7 L223.5,582.2 L222.7,581.7 L221.8,581.2 L221.0,580.7 L220.1,580.2 L219.2,579.7 L218.4,579.2 L217.6,578.8 L216.7,578.3 L215.9,577.8 L215.0,577.3 L214.2,576.9 L213.3,576.4 L212.5,575.9 L211.6,575.5 L210.8,575.0 L209.9,574.6 L209.1,574.1 L208.2,573.7 L207.4,573.3 L206.5,572.8 L205.7,572.4 L204.8,572.0 L204.0,571.5 L203.1,571.1 L202.2,570.7 L201.4,570.3 L200.6,569.9 L199.7,569.5 L198.9,569.1 L198.0,568.7 L197.2,568.3 L196.3,567.9 L195.5,567.5 L194.6,567.1 L193.8,566.8 L192.9,566.4 L192.1,566.0 L191.2,565.7 L190.4,565.3 L189.5,565.0 L188.7,564.6 L187.8,564.3 L187.0,563.9 L186.1,563.6 L185.2,563.3 L184.4,563.0 L183.6,562.6 L182.7,562.3 L181.9,562.0 L181.0,561.7 L180.2,561.4 L179.3,561.1 L178.5,560.8 L177.6,560.5 L176.8,560.2 L175.9,559.9 L175.1,559.6 L174.2,559.4 L173.4,559.1 L172.5,558.8 L171.7,558.6 L170.8,558.3 L170.0,558.0 L169.1,557.8 L168.2,557.5 L167.4,557.3 L166.6,557.0 L165.7,556.8 L164.9,556.6 L164.0,556.3 L163.2,556.1 L162.3,555.9 L161.5,555.7 L160.6,555.4 L159.8,555.2 L158.9,555.0 L158.1,554.8 L157.2,554.6 L156.4,554.4 L155.5,554.2 L154.7,554.0 L153.8,553.8 L153.0,553.6 L152.1,553.4 L151.2,553.2 L150.4,553.0 L149.6,552.8 L148.7,552.6 L147.9,552.5 L147.0,552.3 L146.2,552.1 L145.3,551.9 L144.5,551.8 L143.6,551.6 L142.8,551.4 L141.9,551.3 L141.1,551.1 L140.2,550.9 L139.4,550.8 L138.5,550.6 L137.7,550.4 L136.8,550.3 L136.0,550.1 L135.1,550.0 L134.2,549.8 L133.4,549.7 L132.6,549.5 L131.7,549.4 L130.9,549.3 L130.0,549.1 L129.2,549.0 L128.3,548.8 Z " fill="#999999" fill-opacity="0.105"/>
<path d="M71.2,520.0 L72.5,520.4 L73.8,520.8 L75.2,521.3 L76.5,521.7 L77.8,522.1 L79.1,522.5 L80.5,522.9 L81.8,523.3 L83.1,523.7 L84.4,524.1 L85.8,524.5 L87.1,524.9 L88.4,525.3 L89.7,525.7 L91.0,526.1 L92.4,526.5 L93.7,526.8 L95.0,527.2 L96.3,527.6 L97.7,528.0 L99.0,528.3 L100.3,528.7 L101.6,529.1 L103.0,529.4 L104.3,529.8 L105.6,530.1 L106.9,530.5 L108.2,530.8 L109.6,531.1 L110.9,531.5 L112.2,531.8 L113.5,532.1 L114.9,532.4 L116.2,532.7 L117.5,533.0 L118.8,533.3 L120.2,533.6 L121.5,533.9 L122.8,534.1 L124.1,534.4 L125.4,534.6 L126.8,534.9 L128.1,535.1 L129.4,535.4 L130.7,535.6 L132.1,535.8 L133.4,536.0 L134.7,536.2 L136.0,536.4 L137.4,536.5 L138.7,536.7 L140.0,536.9 L141.3,537.0 L142.6,537.2 L144.0,537.3 L145.3,537.4 L146.6,537.6 L147.9,537.7 L149.3,537.8 L150.6,537.9 L151.9,538.0 L153.2,538.1 L154.5,538.1 L155.9,538.2 L157.2,538.3 L158.5,538.3 L159.8,538.4 L161.2,538.4 L162.5,538.5 L163.8,538.5 L165.1,538.5 L166.5,538.6 L167.8,538.6 L169.1,538.6 L170.4,538.6 L171.7,538.6 L173.1,538.6 L174.4,538.7 L175.7,538.7 L177.0,538.7 L178.4,538.6 L179.7,538.6 L181.0,538.6 L182.3,538.6 L183.7,538.6 L185.0,538.6 L186.3,538.6 L187.6,538.5 L188.9,538.5 L190.3,538.5 L191.6,538.4 L192.9,538.4 L194.2,538.4 L195.6,538.3 L196.9,538.3 L198.2,538.3 L199.5,538.2 L200.9,538.2 L202.2,538.2 L203.5,538.1 L204.8,538.1 L206.1,538.0 L207.5,538.0 L208.8,537.9 L210.1,537.9 L211.4,537.8 L212.8,537.8 L214.1,537.7 L215.4,537.7 L216.7,537.6 L218.1,537.6 L219.4,537.5 L220.7,537.4 L222.0,537.4 L223.3,537.3 L224.7,537.3 L226.0,537.2 L227.3,537.1 L228.6,537.1 L230.0,537.0 L231.3,537.0 L232.6,536.9 L233.9,536.8 L235.3,536.8 L236.6,536.7 L237.9,536.6 L239.2,536.6 L240.5,536.5 L241.9,536.4 L243.2,536.4 L244.5,536.3 L245.8,536.2 L247.2,536.2 L248.5,536.1 L249.8,536.0 L251.1,536.0 L252.5,535.9 L253.8,535.8 L255.1,535.8 L256.4,535.7 L257.7,535.6 L259.1,535.6 L260.4,535.5 L261.7,535.4 L263.0,535.3 L264.4,535.3 L265.7,535.2 L265.7,592.7 L264.4,592.2 L263.0,591.8 L261.7,591.3 L260.4,590.9 L259.1,590.4 L257.7,590.0 L256.4,589.5 L255.1,589.1 L253.8,588.6 L252.5,588.2 L251.1,587.7 L249.8,587.3 L248.5,586.8 L247.2,586.4 L245.8,585.9 L244.5,585.5 L243.2,585.0 L241.9,584.6 L240.5,584.1 L239.2,583.7 L237.9,583.2 L236.6,582.8 L235.3,582.3 L233.9,581.9 L232.6,581.5 L231.3,581.0 L230.0,580.6 L228.6,580.1 L227.3,579.7 L226.0,579.3 L224.7,578.8 L223.3,578.4 L222.0,577.9 L220.7,577.5 L219.4,577.1 L218.1,576.6 L216.7,576.2 L215.4,575.8 L214.1,575.3 L212.8,574.9 L211.4,574.5 L210.1,574.0 L208.8,573.6 L207.5,573.2 L206.1,572.7 L204.8,572.3 L203.5,571.9 L202.2,571.5 L200.9,571.0 L199.5,570.6 L198.2,570.2 L196.9,569.8 L195.6,569.4 L194.2,569.0 L192.9,568.5 L191.6,568.1 L190.3,567.7 L188.9,567.3 L187.6,566.9 L186.3,566.5 L185.0,566.1 L183.7,565.7 L182.3,565.3 L181.0,564.9 L179.7,564.5 L178.4,564.1 L177.0,563.7 L175.7,563.4 L174.4,563.0 L173.1,562.6 L171.7,562.2 L170.4,561.9 L169.1,561.5 L167.8,561.1 L166.5,560.8 L165.1,560.4 L163.8,560.1 L162.5,559.7 L161.2,559.4 L159.8,559.1 L158.5,558.8 L157.2,558.4 L155.9,558.1 L154.5,557.8 L153.2,557.5 L151.9,557.2 L150.6,556.9 L149.3,556.6 L147.9,556.4 L146.6,556.1 L145.3,555.8 L144.0,555.6 L142.6,555.3 L141.3,555.1 L140.0,554.9 L138.7,554.7 L137.4,554.5 L136.0,554.2 L134.7,554.1 L133.4,553.9 L132.1,553.7 L130.7,553.5 L129.4,553.4 L128.1,553.2 L126.8,553.1 L125.4,552.9 L124.1,552.8 L122.8,552.7 L121.5,552.6 L120.2,552.5 L118.8,552.4 L117.5,552.3 L116.2,552.2 L114.9,552.1 L113.5,552.1 L112.2,552.0 L110.9,551.9 L109.6,551.9 L108.2,551.8 L106.9,551.8 L105.6,551.8 L104.3,551.7 L103.0,551.7 L101.6,551.7 L100.3,551.7 L99.0,551.6 L97.7,551.6 L96.3,551.6 L95.0,551.6 L93.7,551.6 L92.4,551.6 L91.0,551.6 L89.7,551.6 L88.4,551.6 L87.1,551.7 L85.8,551.7 L84.4,551.7 L83.1,551.7 L81.8,551.7 L80.5,551.8 L79.1,551.8 L77.8,551.8 L76.5,551.9 L75.2,551.9 L73.8,551.9 L72.5,552.0 L71.2,552.0 Z " fill="#999999" fill-opacity="0.105"/>
<circle cx="71.5" cy="318.2" r="2.25" fill="#AD53CC"/>
<circle cx="73.5" cy="318.2" r="2.25" fill="#AD53CC"/>
<circle cx="89.2" cy="318.2" r="2.25" fill="#AD53CC"/>
<circle cx="96.5" cy="318.2" r="2.25" fill="#AD53CC"/>
<circle cx="99.5" cy="318.2" r="2.25" fill="#AD53CC"/>
<circle cx="105.5" cy="318.2" r="2.25" fill="#AD53CC"/>
<circle cx="107.5" cy="318.2" r="2.25" fill="#AD53CC"/>
<circle cx="110" cy="318.2" r="2.25" fill="#AD53CC"/>
<circle cx="123.5" cy="318.2" r="2.25" fill="#AD53CC"/>
<circle cx="124" cy="318.2" r="2.25" fill="#AD53CC"/>
<circle cx="139.5" cy="318.2" r="2.25" fill="#AD53CC"/>
<circle cx="150.2" cy="318.2" r="2.25" fill="#AD53CC"/>
<circle cx="129.5" cy="318.2" r="2.25" fill="#1A6C8B"/>
<circle cx="132" cy="318.2" r="2.25" fill="#1A6C8B"/>
<circle cx="134.5" cy="318.2" r="2.25" fill="#1A6C8B"/>
<circle cx="159.3" cy="318.2" r="2.25" fill="#1A6C8B"/>
<circle cx="179" cy="318.2" r="2.25" fill="#1A6C8B"/>
<circle cx="183" cy="318.2" r="2.25" fill="#1A6C8B"/>
<circle cx="71.5" cy="592.2" r="2.25" fill="#AD53CC"/>
<circle cx="73.5" cy="592.2" r="2.25" fill="#AD53CC"/>
<circle cx="81.5" cy="592.2" r="2.25" fill="#AD53CC"/>
<circle cx="83" cy="592.2" r="2.25" fill="#AD53CC"/>
<circle cx="89" cy="592.2" r="2.25" fill="#AD53CC"/>
<circle cx="94.5" cy="592.2" r="2.25" fill="#AD53CC"/>
<circle cx="97" cy="592.2" r="2.25" fill="#AD53CC"/>
<circle cx="99.5" cy="592.2" r="2.25" fill="#AD53CC"/>
<circle cx="102" cy="592.2" r="2.25" fill="#AD53CC"/>
<circle cx="104.5" cy="592.2" r="2.25" fill="#AD53CC"/>
<circle cx="107.5" cy="592.2" r="2.25" fill="#AD53CC"/>
<circle cx="123.5" cy="592.2" r="2.25" fill="#AD53CC"/>
<circle cx="138.5" cy="592.2" r="2.25" fill="#AD53CC"/>
<circle cx="146" cy="592.2" r="2.25" fill="#AD53CC"/>
<circle cx="150.5" cy="592.2" r="2.25" fill="#AD53CC"/>
<circle cx="128.5" cy="592.2" r="2.25" fill="#1A6C8B"/>
<circle cx="131" cy="592.2" r="2.25" fill="#1A6C8B"/>
<circle cx="134" cy="592.2" r="2.25" fill="#1A6C8B"/>
<circle cx="142" cy="592.2" r="2.25" fill="#1A6C8B"/>
<circle cx="158.5" cy="592.2" r="2.25" fill="#1A6C8B"/>
<circle cx="179" cy="592.2" r="2.25" fill="#1A6C8B"/>
<circle cx="183" cy="592.2" r="2.25" fill="#1A6C8B"/>
<circle cx="199.5" cy="592.2" r="2.25" fill="#1A6C8B"/>
<circle cx="203.5" cy="592.2" r="2.25" fill="#1A6C8B"/>
<circle cx="309.5" cy="592.2" r="2.25" fill="#1A6C8B"/>
<circle cx="313" cy="592.2" r="2.25" fill="#1A6C8B"/>
<circle cx="335.5" cy="592.2" r="2.25" fill="#1A6C8B"/>
<line x1="71.2" y1="563.5" x2="151.4" y2="518.3" stroke="#AD53CC" stroke-width="4.0"/>
<line x1="128.3" y1="520.7" x2="298.3" y2="591.1" stroke="#1A6C8B" stroke-width="4.0"/>
<line x1="71.2" y1="536" x2="335.8" y2="574" stroke="#222" stroke-width="1.4" stroke-dasharray="4.05,4.05" stroke-dashoffset="1.1"/>
</g>
<rect x="58.2" y="304.4" width="290.3" height="301.20000000000005" fill="none" stroke="#A6A6A6" stroke-width="1.4"/>
<line x1="55.2" y1="592.20" x2="58.2" y2="592.20" stroke="#333" stroke-width="1.1"/>
<text x="23.62" y="597.70" font-size="15.2" fill="#4D4D4D" stroke="#4D4D4D" stroke-width="0.2">0.00</text>
<line x1="55.2" y1="523.70" x2="58.2" y2="523.70" stroke="#333" stroke-width="1.1"/>
<text x="23.62" y="529.20" font-size="15.2" fill="#4D4D4D" stroke="#4D4D4D" stroke-width="0.2">0.25</text>
<line x1="55.2" y1="455.20" x2="58.2" y2="455.20" stroke="#333" stroke-width="1.1"/>
<text x="23.62" y="460.70" font-size="15.2" fill="#4D4D4D" stroke="#4D4D4D" stroke-width="0.2">0.50</text>
<line x1="55.2" y1="386.70" x2="58.2" y2="386.70" stroke="#333" stroke-width="1.1"/>
<text x="23.62" y="392.20" font-size="15.2" fill="#4D4D4D" stroke="#4D4D4D" stroke-width="0.2">0.75</text>
<line x1="55.2" y1="318.20" x2="58.2" y2="318.20" stroke="#333" stroke-width="1.1"/>
<text x="23.62" y="323.70" font-size="15.2" fill="#4D4D4D" stroke="#4D4D4D" stroke-width="0.2"> .00</text><path transform="translate(23.62,323.70) scale(0.00742,-0.00742)" d="M540,0 L540,1180 L210,1000 L210,1165 L570,1409 L725,1409 L725,0 Z" fill="#4D4D4D" stroke="#4D4D4D" stroke-width="26.9"/>
<line x1="105.20" y1="605.6" x2="105.20" y2="608.0" stroke="#333" stroke-width="1.2"/>
<line x1="162.05" y1="605.6" x2="162.05" y2="608.0" stroke="#333" stroke-width="1.2"/>
<line x1="218.90" y1="605.6" x2="218.90" y2="608.0" stroke="#333" stroke-width="1.2"/>
<line x1="275.75" y1="605.6" x2="275.75" y2="608.0" stroke="#333" stroke-width="1.2"/>
<line x1="332.60" y1="605.6" x2="332.60" y2="608.0" stroke="#333" stroke-width="1.2"/>
<text transform="translate(13.7,454.7) rotate(-90)" font-size="18.7" fill="#000" text-anchor="middle"><tspan font-style="italic">Plasmodium</tspan> prevalence</text>
<text transform="translate(323.15,342.8) scale(0.835,1)" font-size="24.1" fill="#000" stroke="#000" stroke-width="0.4">B</text>
<clipPath id="clipC"><rect x="59.2" y="612.9" width="290.40000000000003" height="301.20000000000005"/></clipPath>
<g clip-path="url(#clipC)">
<line x1="77.94" y1="612.9" x2="77.94" y2="914.1" stroke="#F3F3F3" stroke-width="1.0"/>
<line x1="134.66" y1="612.9" x2="134.66" y2="914.1" stroke="#F3F3F3" stroke-width="1.0"/>
<line x1="191.39" y1="612.9" x2="191.39" y2="914.1" stroke="#F3F3F3" stroke-width="1.0"/>
<line x1="248.11" y1="612.9" x2="248.11" y2="914.1" stroke="#F3F3F3" stroke-width="1.0"/>
<line x1="304.84" y1="612.9" x2="304.84" y2="914.1" stroke="#F3F3F3" stroke-width="1.0"/>
<line x1="59.2" y1="857.55" x2="349.6" y2="857.55" stroke="#F3F3F3" stroke-width="1.0"/>
<line x1="59.2" y1="791.45" x2="349.6" y2="791.45" stroke="#F3F3F3" stroke-width="1.0"/>
<line x1="59.2" y1="725.35" x2="349.6" y2="725.35" stroke="#F3F3F3" stroke-width="1.0"/>
<line x1="59.2" y1="659.25" x2="349.6" y2="659.25" stroke="#F3F3F3" stroke-width="1.0"/>
<line x1="106.30" y1="612.9" x2="106.30" y2="914.1" stroke="#ECECEC" stroke-width="1.4"/>
<line x1="163.03" y1="612.9" x2="163.03" y2="914.1" stroke="#ECECEC" stroke-width="1.4"/>
<line x1="219.75" y1="612.9" x2="219.75" y2="914.1" stroke="#ECECEC" stroke-width="1.4"/>
<line x1="276.47" y1="612.9" x2="276.47" y2="914.1" stroke="#ECECEC" stroke-width="1.4"/>
<line x1="333.20" y1="612.9" x2="333.20" y2="914.1" stroke="#ECECEC" stroke-width="1.4"/>
<line x1="59.2" y1="890.60" x2="349.6" y2="890.60" stroke="#ECECEC" stroke-width="1.4"/>
<line x1="59.2" y1="824.50" x2="349.6" y2="824.50" stroke="#ECECEC" stroke-width="1.4"/>
<line x1="59.2" y1="758.40" x2="349.6" y2="758.40" stroke="#ECECEC" stroke-width="1.4"/>
<line x1="59.2" y1="692.30" x2="349.6" y2="692.30" stroke="#ECECEC" stroke-width="1.4"/>
<line x1="59.2" y1="626.20" x2="349.6" y2="626.20" stroke="#ECECEC" stroke-width="1.4"/>
<path d="M72.0,874.7 L72.4,874.7 L72.8,874.7 L73.2,874.7 L73.6,874.7 L74.0,874.8 L74.4,874.8 L74.8,874.8 L75.2,874.8 L75.6,874.8 L76.0,874.8 L76.4,874.8 L76.8,874.8 L77.2,874.8 L77.6,874.8 L78.0,874.8 L78.4,874.8 L78.8,874.8 L79.2,874.8 L79.6,874.8 L80.0,874.8 L80.4,874.9 L80.8,874.9 L81.2,874.9 L81.6,874.9 L82.0,874.9 L82.5,874.9 L82.9,874.9 L83.3,874.9 L83.7,874.9 L84.1,874.8 L84.5,874.8 L84.9,874.8 L85.3,874.8 L85.7,874.8 L86.1,874.8 L86.5,874.8 L86.9,874.8 L87.3,874.8 L87.7,874.8 L88.1,874.8 L88.5,874.8 L88.9,874.8 L89.3,874.7 L89.7,874.7 L90.1,874.7 L90.5,874.7 L90.9,874.7 L91.3,874.7 L91.7,874.6 L92.1,874.6 L92.5,874.6 L92.9,874.6 L93.3,874.5 L93.7,874.5 L94.1,874.5 L94.5,874.5 L94.9,874.4 L95.3,874.4 L95.7,874.3 L96.1,874.3 L96.5,874.3 L96.9,874.2 L97.3,874.2 L97.7,874.1 L98.1,874.1 L98.5,874.1 L98.9,874.0 L99.3,874.0 L99.7,873.9 L100.1,873.8 L100.5,873.8 L100.9,873.7 L101.3,873.7 L101.7,873.6 L102.2,873.5 L102.6,873.5 L103.0,873.4 L103.4,873.3 L103.8,873.2 L104.2,873.2 L104.6,873.1 L105.0,873.0 L105.4,872.9 L105.8,872.8 L106.2,872.7 L106.6,872.6 L107.0,872.5 L107.4,872.4 L107.8,872.3 L108.2,872.2 L108.6,872.1 L109.0,872.0 L109.4,871.9 L109.8,871.8 L110.2,871.7 L110.6,871.5 L111.0,871.4 L111.4,871.3 L111.8,871.2 L112.2,871.0 L112.6,870.9 L113.0,870.8 L113.4,870.6 L113.8,870.5 L114.2,870.4 L114.6,870.2 L115.0,870.1 L115.4,869.9 L115.8,869.8 L116.2,869.6 L116.6,869.5 L117.0,869.3 L117.4,869.2 L117.8,869.0 L118.2,868.9 L118.6,868.7 L119.0,868.6 L119.4,868.4 L119.8,868.2 L120.2,868.1 L120.6,867.9 L121.0,867.7 L121.4,867.6 L121.8,867.4 L122.2,867.2 L122.7,867.1 L123.1,866.9 L123.5,866.7 L123.9,866.5 L124.3,866.4 L124.7,866.2 L125.1,866.0 L125.5,865.8 L125.9,865.6 L126.3,865.5 L126.7,865.3 L127.1,865.1 L127.5,864.9 L127.9,864.7 L128.3,864.5 L128.7,864.4 L129.1,864.2 L129.5,864.0 L129.9,863.8 L130.3,863.6 L130.7,863.4 L131.1,863.2 L131.5,863.0 L131.9,862.8 L132.3,862.7 L132.7,862.5 L133.1,862.3 L133.5,862.1 L133.9,861.9 L134.3,861.7 L134.7,861.5 L135.1,861.3 L135.5,861.1 L135.9,860.9 L136.3,860.7 L136.7,860.5 L137.1,860.3 L137.5,860.1 L137.9,859.9 L138.3,859.7 L138.7,859.5 L139.1,859.3 L139.5,859.1 L139.9,858.9 L140.3,858.7 L140.7,858.5 L141.1,858.3 L141.5,858.1 L141.9,857.9 L142.4,857.7 L142.8,857.5 L143.2,857.3 L143.6,857.1 L144.0,856.9 L144.4,856.7 L144.8,856.5 L145.2,856.3 L145.6,856.1 L146.0,855.9 L146.4,855.7 L146.8,855.5 L147.2,855.3 L147.6,855.1 L148.0,854.9 L148.4,854.7 L148.8,854.4 L149.2,854.2 L149.6,854.0 L150.0,853.8 L150.4,853.6 L150.8,853.4 L151.2,853.2 L151.6,853.0 L152.0,852.8 L152.4,852.6 L152.4,882.8 L152.0,882.8 L151.6,882.8 L151.2,882.8 L150.8,882.7 L150.4,882.7 L150.0,882.7 L149.6,882.7 L149.2,882.7 L148.8,882.7 L148.4,882.6 L148.0,882.6 L147.6,882.6 L147.2,882.6 L146.8,882.6 L146.4,882.6 L146.0,882.6 L145.6,882.5 L145.2,882.5 L144.8,882.5 L144.4,882.5 L144.0,882.5 L143.6,882.5 L143.2,882.5 L142.8,882.5 L142.4,882.4 L141.9,882.4 L141.5,882.4 L141.1,882.4 L140.7,882.4 L140.3,882.4 L139.9,882.4 L139.5,882.4 L139.1,882.4 L138.7,882.3 L138.3,882.3 L137.9,882.3 L137.5,882.3 L137.1,882.3 L136.7,882.3 L136.3,882.3 L135.9,882.3 L135.5,882.3 L135.1,882.3 L134.7,882.3 L134.3,882.3 L133.9,882.3 L133.5,882.3 L133.1,882.3 L132.7,882.3 L132.3,882.2 L131.9,882.2 L131.5,882.2 L131.1,882.2 L130.7,882.2 L130.3,882.2 L129.9,882.2 L129.5,882.2 L129.1,882.3 L128.7,882.3 L128.3,882.3 L127.9,882.3 L127.5,882.3 L127.1,882.3 L126.7,882.3 L126.3,882.3 L125.9,882.3 L125.5,882.3 L125.1,882.3 L124.7,882.3 L124.3,882.3 L123.9,882.4 L123.5,882.4 L123.1,882.4 L122.7,882.4 L122.2,882.4 L121.8,882.4 L121.4,882.5 L121.0,882.5 L120.6,882.5 L120.2,882.5 L119.8,882.6 L119.4,882.6 L119.0,882.6 L118.6,882.6 L118.2,882.7 L117.8,882.7 L117.4,882.7 L117.0,882.8 L116.6,882.8 L116.2,882.9 L115.8,882.9 L115.4,882.9 L115.0,883.0 L114.6,883.0 L114.2,883.1 L113.8,883.1 L113.4,883.2 L113.0,883.2 L112.6,883.3 L112.2,883.4 L111.8,883.4 L111.4,883.5 L111.0,883.5 L110.6,883.6 L110.2,883.7 L109.8,883.8 L109.4,883.8 L109.0,883.9 L108.6,884.0 L108.2,884.1 L107.8,884.2 L107.4,884.3 L107.0,884.3 L106.6,884.4 L106.2,884.5 L105.8,884.6 L105.4,884.7 L105.0,884.8 L104.6,884.9 L104.2,885.0 L103.8,885.2 L103.4,885.3 L103.0,885.4 L102.6,885.5 L102.2,885.6 L101.7,885.7 L101.3,885.9 L100.9,886.0 L100.5,886.1 L100.1,886.3 L99.7,886.4 L99.3,886.5 L98.9,886.7 L98.5,886.8 L98.1,886.9 L97.7,887.1 L97.3,887.2 L96.9,887.4 L96.5,887.5 L96.1,887.7 L95.7,887.8 L95.3,888.0 L94.9,888.2 L94.5,888.3 L94.1,888.5 L93.7,888.6 L93.3,888.8 L92.9,889.0 L92.5,889.1 L92.1,889.3 L91.7,889.5 L91.3,889.6 L90.9,889.8 L90.5,890.0 L90.1,890.1 L89.7,890.3 L89.3,890.5 L88.9,890.7 L88.5,890.8 L88.1,891.0 L87.7,891.2 L87.3,891.4 L86.9,891.6 L86.5,891.7 L86.1,891.9 L85.7,892.1 L85.3,892.3 L84.9,892.5 L84.5,892.7 L84.1,892.9 L83.7,893.0 L83.3,893.2 L82.9,893.4 L82.5,893.6 L82.0,893.8 L81.6,894.0 L81.2,894.2 L80.8,894.4 L80.4,894.6 L80.0,894.8 L79.6,894.9 L79.2,895.1 L78.8,895.3 L78.4,895.5 L78.0,895.7 L77.6,895.9 L77.2,896.1 L76.8,896.3 L76.4,896.5 L76.0,896.7 L75.6,896.9 L75.2,897.1 L74.8,897.3 L74.4,897.5 L74.0,897.7 L73.6,897.9 L73.2,898.1 L72.8,898.3 L72.4,898.5 L72.0,898.7 Z " fill="#999999" fill-opacity="0.105"/>
<path d="M128.9,814.7 L129.9,814.7 L131.0,814.7 L132.0,814.7 L133.0,814.7 L134.1,814.7 L135.1,814.7 L136.1,814.7 L137.2,814.7 L138.2,814.7 L139.2,814.7 L140.3,814.7 L141.3,814.7 L142.4,814.7 L143.4,814.7 L144.4,814.7 L145.5,814.7 L146.5,814.7 L147.5,814.6 L148.6,814.6 L149.6,814.6 L150.6,814.6 L151.7,814.6 L152.7,814.6 L153.7,814.5 L154.8,814.5 L155.8,814.5 L156.8,814.5 L157.9,814.4 L158.9,814.4 L159.9,814.4 L161.0,814.3 L162.0,814.3 L163.1,814.3 L164.1,814.2 L165.1,814.2 L166.2,814.1 L167.2,814.1 L168.2,814.0 L169.3,814.0 L170.3,813.9 L171.3,813.9 L172.4,813.8 L173.4,813.8 L174.4,813.7 L175.5,813.7 L176.5,813.6 L177.5,813.5 L178.6,813.5 L179.6,813.4 L180.7,813.3 L181.7,813.3 L182.7,813.2 L183.8,813.1 L184.8,813.0 L185.8,812.9 L186.9,812.8 L187.9,812.7 L188.9,812.7 L190.0,812.6 L191.0,812.5 L192.0,812.4 L193.1,812.3 L194.1,812.1 L195.1,812.0 L196.2,811.9 L197.2,811.8 L198.2,811.7 L199.3,811.6 L200.3,811.4 L201.3,811.3 L202.4,811.2 L203.4,811.1 L204.5,810.9 L205.5,810.8 L206.5,810.6 L207.6,810.5 L208.6,810.3 L209.6,810.2 L210.7,810.0 L211.7,809.9 L212.7,809.7 L213.8,809.5 L214.8,809.4 L215.8,809.2 L216.9,809.0 L217.9,808.8 L218.9,808.7 L220.0,808.5 L221.0,808.3 L222.0,808.1 L223.1,807.9 L224.1,807.7 L225.2,807.5 L226.2,807.3 L227.2,807.1 L228.3,806.9 L229.3,806.7 L230.3,806.4 L231.4,806.2 L232.4,806.0 L233.4,805.8 L234.5,805.5 L235.5,805.3 L236.5,805.1 L237.6,804.8 L238.6,804.6 L239.6,804.3 L240.7,804.1 L241.7,803.8 L242.8,803.6 L243.8,803.3 L244.8,803.1 L245.9,802.8 L246.9,802.5 L247.9,802.2 L249.0,802.0 L250.0,801.7 L251.0,801.4 L252.1,801.1 L253.1,800.9 L254.1,800.6 L255.2,800.3 L256.2,800.0 L257.2,799.7 L258.3,799.4 L259.3,799.1 L260.3,798.8 L261.4,798.5 L262.4,798.2 L263.4,797.9 L264.5,797.6 L265.5,797.2 L266.6,796.9 L267.6,796.6 L268.6,796.3 L269.7,796.0 L270.7,795.6 L271.7,795.3 L272.8,795.0 L273.8,794.7 L274.8,794.3 L275.9,794.0 L276.9,793.6 L277.9,793.3 L279.0,793.0 L280.0,792.6 L281.0,792.3 L282.1,791.9 L283.1,791.6 L284.1,791.2 L285.2,790.9 L286.2,790.5 L287.3,790.2 L288.3,789.8 L289.3,789.5 L290.4,789.1 L291.4,788.8 L292.4,788.4 L293.5,788.0 L294.5,787.7 L295.5,787.3 L296.6,786.9 L297.6,786.6 L298.6,786.2 L299.7,785.8 L300.7,785.5 L301.7,785.1 L302.8,784.7 L303.8,784.3 L304.8,784.0 L305.9,783.6 L306.9,783.2 L308.0,782.8 L309.0,782.4 L310.0,782.1 L311.1,781.7 L312.1,781.3 L313.1,780.9 L314.2,780.5 L315.2,780.1 L316.2,779.7 L317.3,779.4 L318.3,779.0 L319.3,778.6 L320.4,778.2 L321.4,777.8 L322.4,777.4 L323.5,777.0 L324.5,776.6 L325.5,776.2 L326.6,775.8 L327.6,775.4 L328.7,775.0 L329.7,774.6 L330.7,774.2 L331.8,773.8 L332.8,773.4 L333.8,773.0 L334.9,772.6 L335.9,772.2 L335.9,844.2 L334.9,844.2 L333.8,844.1 L332.8,844.1 L331.8,844.1 L330.7,844.1 L329.7,844.0 L328.7,844.0 L327.6,844.0 L326.6,844.0 L325.5,844.0 L324.5,843.9 L323.5,843.9 L322.4,843.9 L321.4,843.9 L320.4,843.9 L319.3,843.9 L318.3,843.8 L317.3,843.8 L316.2,843.8 L315.2,843.8 L314.2,843.8 L313.1,843.8 L312.1,843.8 L311.1,843.8 L310.0,843.8 L309.0,843.8 L308.0,843.8 L306.9,843.8 L305.9,843.8 L304.8,843.8 L303.8,843.8 L302.8,843.8 L301.7,843.8 L300.7,843.8 L299.7,843.8 L298.6,843.8 L297.6,843.8 L296.6,843.8 L295.5,843.8 L294.5,843.8 L293.5,843.8 L292.4,843.8 L291.4,843.9 L290.4,843.9 L289.3,843.9 L288.3,843.9 L287.3,843.9 L286.2,844.0 L285.2,844.0 L284.1,844.0 L283.1,844.0 L282.1,844.1 L281.0,844.1 L280.0,844.1 L279.0,844.2 L277.9,844.2 L276.9,844.2 L275.9,844.3 L274.8,844.3 L273.8,844.4 L272.8,844.4 L271.7,844.5 L270.7,844.5 L269.7,844.6 L268.6,844.6 L267.6,844.7 L266.6,844.7 L265.5,844.8 L264.5,844.9 L263.4,844.9 L262.4,845.0 L261.4,845.1 L260.3,845.1 L259.3,845.2 L258.3,845.3 L257.2,845.4 L256.2,845.4 L255.2,845.5 L254.1,845.6 L253.1,845.7 L252.1,845.8 L251.0,845.9 L250.0,846.0 L249.0,846.1 L247.9,846.2 L246.9,846.3 L245.9,846.4 L244.8,846.5 L243.8,846.6 L242.8,846.8 L241.7,846.9 L240.7,847.0 L239.6,847.1 L238.6,847.3 L237.6,847.4 L236.5,847.5 L235.5,847.7 L234.5,847.8 L233.4,848.0 L232.4,848.1 L231.4,848.3 L230.3,848.4 L229.3,848.6 L228.3,848.7 L227.2,848.9 L226.2,849.1 L225.2,849.2 L224.1,849.4 L223.1,849.6 L222.0,849.8 L221.0,850.0 L220.0,850.1 L218.9,850.3 L217.9,850.5 L216.9,850.7 L215.8,850.9 L214.8,851.1 L213.8,851.3 L212.7,851.6 L211.7,851.8 L210.7,852.0 L209.6,852.2 L208.6,852.4 L207.6,852.7 L206.5,852.9 L205.5,853.1 L204.5,853.4 L203.4,853.6 L202.4,853.8 L201.3,854.1 L200.3,854.3 L199.3,854.6 L198.2,854.8 L197.2,855.1 L196.2,855.4 L195.1,855.6 L194.1,855.9 L193.1,856.2 L192.0,856.4 L191.0,856.7 L190.0,857.0 L188.9,857.3 L187.9,857.6 L186.9,857.9 L185.8,858.1 L184.8,858.4 L183.8,858.7 L182.7,859.0 L181.7,859.3 L180.7,859.6 L179.6,859.9 L178.6,860.2 L177.5,860.5 L176.5,860.9 L175.5,861.2 L174.4,861.5 L173.4,861.8 L172.4,862.1 L171.3,862.4 L170.3,862.8 L169.3,863.1 L168.2,863.4 L167.2,863.8 L166.2,864.1 L165.1,864.4 L164.1,864.8 L163.1,865.1 L162.0,865.4 L161.0,865.8 L159.9,866.1 L158.9,866.5 L157.9,866.8 L156.8,867.2 L155.8,867.5 L154.8,867.9 L153.7,868.2 L152.7,868.6 L151.7,868.9 L150.6,869.3 L149.6,869.6 L148.6,870.0 L147.5,870.4 L146.5,870.7 L145.5,871.1 L144.4,871.5 L143.4,871.8 L142.4,872.2 L141.3,872.6 L140.3,872.9 L139.2,873.3 L138.2,873.7 L137.2,874.1 L136.1,874.4 L135.1,874.8 L134.1,875.2 L133.0,875.6 L132.0,876.0 L131.0,876.3 L129.9,876.7 L128.9,877.1 Z " fill="#999999" fill-opacity="0.105"/>
<path d="M72.0,876.7 L73.3,876.4 L74.6,876.1 L75.9,875.8 L77.3,875.5 L78.6,875.2 L79.9,874.9 L81.2,874.6 L82.5,874.3 L83.8,874.0 L85.2,873.7 L86.5,873.4 L87.8,873.1 L89.1,872.8 L90.4,872.4 L91.7,872.1 L93.0,871.8 L94.4,871.4 L95.7,871.1 L97.0,870.7 L98.3,870.4 L99.6,870.0 L100.9,869.6 L102.2,869.3 L103.6,868.9 L104.9,868.5 L106.2,868.1 L107.5,867.7 L108.8,867.3 L110.1,866.9 L111.5,866.4 L112.8,866.0 L114.1,865.6 L115.4,865.1 L116.7,864.7 L118.0,864.2 L119.3,863.7 L120.7,863.3 L122.0,862.8 L123.3,862.3 L124.6,861.8 L125.9,861.3 L127.2,860.8 L128.5,860.3 L129.9,859.8 L131.2,859.2 L132.5,858.7 L133.8,858.2 L135.1,857.6 L136.4,857.1 L137.8,856.5 L139.1,856.0 L140.4,855.4 L141.7,854.8 L143.0,854.3 L144.3,853.7 L145.6,853.1 L147.0,852.5 L148.3,851.9 L149.6,851.4 L150.9,850.8 L152.2,850.2 L153.5,849.6 L154.8,849.0 L156.2,848.4 L157.5,847.8 L158.8,847.2 L160.1,846.6 L161.4,846.0 L162.7,845.4 L164.1,844.8 L165.4,844.1 L166.7,843.5 L168.0,842.9 L169.3,842.3 L170.6,841.7 L171.9,841.1 L173.3,840.4 L174.6,839.8 L175.9,839.2 L177.2,838.6 L178.5,838.0 L179.8,837.3 L181.1,836.7 L182.5,836.1 L183.8,835.4 L185.1,834.8 L186.4,834.2 L187.7,833.6 L189.0,832.9 L190.3,832.3 L191.7,831.7 L193.0,831.0 L194.3,830.4 L195.6,829.8 L196.9,829.1 L198.2,828.5 L199.6,827.9 L200.9,827.2 L202.2,826.6 L203.5,826.0 L204.8,825.3 L206.1,824.7 L207.4,824.0 L208.8,823.4 L210.1,822.8 L211.4,822.1 L212.7,821.5 L214.0,820.8 L215.3,820.2 L216.7,819.6 L218.0,818.9 L219.3,818.3 L220.6,817.6 L221.9,817.0 L223.2,816.4 L224.5,815.7 L225.9,815.1 L227.2,814.4 L228.5,813.8 L229.8,813.2 L231.1,812.5 L232.4,811.9 L233.7,811.2 L235.1,810.6 L236.4,809.9 L237.7,809.3 L239.0,808.6 L240.3,808.0 L241.6,807.4 L242.9,806.7 L244.3,806.1 L245.6,805.4 L246.9,804.8 L248.2,804.1 L249.5,803.5 L250.8,802.8 L252.2,802.2 L253.5,801.6 L254.8,800.9 L256.1,800.3 L257.4,799.6 L258.7,799.0 L260.0,798.3 L261.4,797.7 L262.7,797.0 L264.0,796.4 L265.3,795.7 L266.6,795.1 L267.9,794.4 L269.2,793.8 L270.6,793.1 L271.9,792.5 L273.2,791.9 L274.5,791.2 L275.8,790.6 L277.1,789.9 L278.5,789.3 L279.8,788.6 L281.1,788.0 L282.4,787.3 L283.7,786.7 L285.0,786.0 L286.3,785.4 L287.7,784.7 L289.0,784.1 L290.3,783.4 L291.6,782.8 L292.9,782.1 L294.2,781.5 L295.6,780.8 L296.9,780.2 L298.2,779.5 L299.5,778.9 L300.8,778.2 L302.1,777.6 L303.4,776.9 L304.8,776.3 L306.1,775.6 L307.4,775.0 L308.7,774.3 L310.0,773.7 L311.3,773.1 L312.6,772.4 L314.0,771.8 L315.3,771.1 L316.6,770.5 L317.9,769.8 L319.2,769.2 L320.5,768.5 L321.9,767.9 L323.2,767.2 L324.5,766.6 L325.8,765.9 L327.1,765.3 L328.4,764.6 L329.7,764.0 L331.1,763.3 L332.4,762.7 L333.7,762.0 L335.0,761.4 L335.0,833.0 L333.7,833.3 L332.4,833.5 L331.1,833.7 L329.7,834.0 L328.4,834.2 L327.1,834.5 L325.8,834.7 L324.5,834.9 L323.2,835.2 L321.9,835.4 L320.5,835.6 L319.2,835.9 L317.9,836.1 L316.6,836.3 L315.3,836.6 L314.0,836.8 L312.6,837.0 L311.3,837.3 L310.0,837.5 L308.7,837.8 L307.4,838.0 L306.1,838.2 L304.8,838.5 L303.4,838.7 L302.1,838.9 L300.8,839.2 L299.5,839.4 L298.2,839.6 L296.9,839.9 L295.6,840.1 L294.2,840.3 L292.9,840.6 L291.6,840.8 L290.3,841.1 L289.0,841.3 L287.7,841.5 L286.3,841.8 L285.0,842.0 L283.7,842.2 L282.4,842.5 L281.1,842.7 L279.8,843.0 L278.5,843.2 L277.1,843.4 L275.8,843.7 L274.5,843.9 L273.2,844.1 L271.9,844.4 L270.6,844.6 L269.2,844.9 L267.9,845.1 L266.6,845.3 L265.3,845.6 L264.0,845.8 L262.7,846.0 L261.4,846.3 L260.0,846.5 L258.7,846.8 L257.4,847.0 L256.1,847.2 L254.8,847.5 L253.5,847.7 L252.2,848.0 L250.8,848.2 L249.5,848.4 L248.2,848.7 L246.9,848.9 L245.6,849.2 L244.3,849.4 L242.9,849.6 L241.6,849.9 L240.3,850.1 L239.0,850.4 L237.7,850.6 L236.4,850.8 L235.1,851.1 L233.7,851.3 L232.4,851.6 L231.1,851.8 L229.8,852.0 L228.5,852.3 L227.2,852.5 L225.9,852.8 L224.5,853.0 L223.2,853.3 L221.9,853.5 L220.6,853.7 L219.3,854.0 L218.0,854.2 L216.7,854.5 L215.3,854.7 L214.0,855.0 L212.7,855.2 L211.4,855.5 L210.1,855.7 L208.8,856.0 L207.4,856.2 L206.1,856.4 L204.8,856.7 L203.5,856.9 L202.2,857.2 L200.9,857.4 L199.6,857.7 L198.2,857.9 L196.9,858.2 L195.6,858.4 L194.3,858.7 L193.0,858.9 L191.7,859.2 L190.3,859.5 L189.0,859.7 L187.7,860.0 L186.4,860.2 L185.1,860.5 L183.8,860.7 L182.5,861.0 L181.1,861.2 L179.8,861.5 L178.5,861.8 L177.2,862.0 L175.9,862.3 L174.6,862.5 L173.3,862.8 L171.9,863.1 L170.6,863.3 L169.3,863.6 L168.0,863.9 L166.7,864.1 L165.4,864.4 L164.1,864.7 L162.7,865.0 L161.4,865.2 L160.1,865.5 L158.8,865.8 L157.5,866.1 L156.2,866.4 L154.8,866.7 L153.5,866.9 L152.2,867.2 L150.9,867.5 L149.6,867.8 L148.3,868.1 L147.0,868.4 L145.6,868.7 L144.3,869.0 L143.0,869.3 L141.7,869.7 L140.4,870.0 L139.1,870.3 L137.8,870.6 L136.4,871.0 L135.1,871.3 L133.8,871.6 L132.5,872.0 L131.2,872.3 L129.9,872.7 L128.5,873.1 L127.2,873.4 L125.9,873.8 L124.6,874.2 L123.3,874.6 L122.0,875.0 L120.7,875.4 L119.3,875.8 L118.0,876.2 L116.7,876.6 L115.4,877.1 L114.1,877.5 L112.8,878.0 L111.5,878.4 L110.1,878.9 L108.8,879.3 L107.5,879.8 L106.2,880.3 L104.9,880.8 L103.6,881.3 L102.2,881.8 L100.9,882.3 L99.6,882.8 L98.3,883.3 L97.0,883.9 L95.7,884.4 L94.4,884.9 L93.0,885.5 L91.7,886.0 L90.4,886.6 L89.1,887.1 L87.8,887.7 L86.5,888.3 L85.2,888.8 L83.8,889.4 L82.5,890.0 L81.2,890.6 L79.9,891.1 L78.6,891.7 L77.3,892.3 L75.9,892.9 L74.6,893.5 L73.3,894.1 L72.0,894.7 Z " fill="#999999" fill-opacity="0.105"/>
<circle cx="102.6" cy="626.2" r="2.25" fill="#AD53CC"/>
<circle cx="109.7" cy="626.2" r="2.25" fill="#AD53CC"/>
<circle cx="124.6" cy="626.2" r="2.25" fill="#AD53CC"/>
<circle cx="141.2" cy="626.2" r="2.25" fill="#AD53CC"/>
<circle cx="130.8" cy="626.2" r="2.25" fill="#1A6C8B"/>
<circle cx="158.5" cy="626.2" r="2.25" fill="#1A6C8B"/>
<circle cx="160.5" cy="626.2" r="2.25" fill="#1A6C8B"/>
<circle cx="180.7" cy="626.2" r="2.25" fill="#1A6C8B"/>
<circle cx="202" cy="626.2" r="2.25" fill="#1A6C8B"/>
<circle cx="205.5" cy="626.2" r="2.25" fill="#1A6C8B"/>
<circle cx="311" cy="626.2" r="2.25" fill="#1A6C8B"/>
<circle cx="314.5" cy="626.2" r="2.25" fill="#1A6C8B"/>
<circle cx="72.5" cy="890.6" r="2.25" fill="#AD53CC"/>
<circle cx="74.5" cy="890.6" r="2.25" fill="#AD53CC"/>
<circle cx="83.5" cy="890.6" r="2.25" fill="#AD53CC"/>
<circle cx="84.5" cy="890.6" r="2.25" fill="#AD53CC"/>
<circle cx="90.2" cy="890.6" r="2.25" fill="#AD53CC"/>
<circle cx="96" cy="890.6" r="2.25" fill="#AD53CC"/>
<circle cx="98.5" cy="890.6" r="2.25" fill="#AD53CC"/>
<circle cx="101" cy="890.6" r="2.25" fill="#AD53CC"/>
<circle cx="103.5" cy="890.6" r="2.25" fill="#AD53CC"/>
<circle cx="106" cy="890.6" r="2.25" fill="#AD53CC"/>
<circle cx="108.5" cy="890.6" r="2.25" fill="#AD53CC"/>
<circle cx="110.5" cy="890.6" r="2.25" fill="#AD53CC"/>
<circle cx="124" cy="890.6" r="2.25" fill="#AD53CC"/>
<circle cx="124.5" cy="890.6" r="2.25" fill="#AD53CC"/>
<circle cx="139.5" cy="890.6" r="2.25" fill="#AD53CC"/>
<circle cx="146.5" cy="890.6" r="2.25" fill="#AD53CC"/>
<circle cx="152" cy="890.6" r="2.25" fill="#AD53CC"/>
<circle cx="129.5" cy="890.6" r="2.25" fill="#1A6C8B"/>
<circle cx="132" cy="890.6" r="2.25" fill="#1A6C8B"/>
<circle cx="135" cy="890.6" r="2.25" fill="#1A6C8B"/>
<circle cx="143" cy="890.6" r="2.25" fill="#1A6C8B"/>
<circle cx="161" cy="890.6" r="2.25" fill="#1A6C8B"/>
<circle cx="180" cy="890.6" r="2.25" fill="#1A6C8B"/>
<circle cx="184" cy="890.6" r="2.25" fill="#1A6C8B"/>
<circle cx="201" cy="890.6" r="2.25" fill="#1A6C8B"/>
<circle cx="205" cy="890.6" r="2.25" fill="#1A6C8B"/>
<circle cx="311" cy="890.6" r="2.25" fill="#1A6C8B"/>
<circle cx="315" cy="890.6" r="2.25" fill="#1A6C8B"/>
<circle cx="336" cy="890.6" r="2.25" fill="#1A6C8B"/>
<line x1="72" y1="886.7" x2="152.4" y2="867.7" stroke="#AD53CC" stroke-width="4.0"/>
<line x1="128.9" y1="845.9" x2="335.9" y2="808.2" stroke="#1A6C8B" stroke-width="4.0"/>
<line x1="72" y1="885.7" x2="335" y2="797.2" stroke="#222" stroke-width="1.4" stroke-dasharray="4.0,4.0" stroke-dashoffset="-0.2"/>
</g>
<rect x="59.2" y="612.9" width="290.40000000000003" height="301.20000000000005" fill="none" stroke="#A6A6A6" stroke-width="1.4"/>
<line x1="56.2" y1="890.60" x2="59.2" y2="890.60" stroke="#333" stroke-width="1.1"/>
<text x="24.62" y="896.10" font-size="15.2" fill="#4D4D4D" stroke="#4D4D4D" stroke-width="0.2">0.00</text>
<line x1="56.2" y1="824.50" x2="59.2" y2="824.50" stroke="#333" stroke-width="1.1"/>
<text x="24.62" y="830.00" font-size="15.2" fill="#4D4D4D" stroke="#4D4D4D" stroke-width="0.2">0.25</text>
<line x1="56.2" y1="758.40" x2="59.2" y2="758.40" stroke="#333" stroke-width="1.1"/>
<text x="24.62" y="763.90" font-size="15.2" fill="#4D4D4D" stroke="#4D4D4D" stroke-width="0.2">0.50</text>
<line x1="56.2" y1="692.30" x2="59.2" y2="692.30" stroke="#333" stroke-width="1.1"/>
<text x="24.62" y="697.80" font-size="15.2" fill="#4D4D4D" stroke="#4D4D4D" stroke-width="0.2">0.75</text>
<line x1="56.2" y1="626.20" x2="59.2" y2="626.20" stroke="#333" stroke-width="1.1"/>
<text x="24.62" y="631.70" font-size="15.2" fill="#4D4D4D" stroke="#4D4D4D" stroke-width="0.2"> .00</text><path transform="translate(24.62,631.70) scale(0.00742,-0.00742)" d="M540,0 L540,1180 L210,1000 L210,1165 L570,1409 L725,1409 L725,0 Z" fill="#4D4D4D" stroke="#4D4D4D" stroke-width="26.9"/>
<line x1="106.30" y1="914.1" x2="106.30" y2="916.5" stroke="#333" stroke-width="1.2"/>
<line x1="163.03" y1="914.1" x2="163.03" y2="916.5" stroke="#333" stroke-width="1.2"/>
<line x1="219.75" y1="914.1" x2="219.75" y2="916.5" stroke="#333" stroke-width="1.2"/>
<line x1="276.47" y1="914.1" x2="276.47" y2="916.5" stroke="#333" stroke-width="1.2"/>
<line x1="333.20" y1="914.1" x2="333.20" y2="916.5" stroke="#333" stroke-width="1.2"/>
<text transform="translate(15.9,762) rotate(-90)" font-size="18.7" fill="#000" text-anchor="middle"><tspan font-style="italic">(Para)Haemoproteus</tspan> prevalence</text>
<path d="M341.26,623.31 A6.9,7.9 0 1 0 341.26,634.29" fill="none" stroke="#000" stroke-width="2.1"/>
<clipPath id="cutA"><rect x="57" y="298.3" width="292" height="1.7"/></clipPath><g clip-path="url(#cutA)" opacity="0.4">
<text x="96.12" y="308.90" font-size="14.7" fill="#4D4D4D" stroke="#4D4D4D" stroke-width="0.2">45</text>
<text x="153.17" y="308.90" font-size="14.7" fill="#4D4D4D" stroke="#4D4D4D" stroke-width="0.2">50</text>
<text x="210.22" y="308.90" font-size="14.7" fill="#4D4D4D" stroke="#4D4D4D" stroke-width="0.2">55</text>
<text x="267.27" y="308.90" font-size="14.7" fill="#4D4D4D" stroke="#4D4D4D" stroke-width="0.2">60</text>
<text x="324.32" y="308.90" font-size="14.7" fill="#4D4D4D" stroke="#4D4D4D" stroke-width="0.2">65</text>
</g>
<text x="97.90" y="929.90" font-size="15.1" fill="#4D4D4D" stroke="#4D4D4D" stroke-width="0.2">45</text>
<text x="154.63" y="929.90" font-size="15.1" fill="#4D4D4D" stroke="#4D4D4D" stroke-width="0.2">50</text>
<text x="211.35" y="929.90" font-size="15.1" fill="#4D4D4D" stroke="#4D4D4D" stroke-width="0.2">55</text>
<text x="268.08" y="929.90" font-size="15.1" fill="#4D4D4D" stroke="#4D4D4D" stroke-width="0.2">60</text>
<text x="324.80" y="929.90" font-size="15.1" fill="#4D4D4D" stroke="#4D4D4D" stroke-width="0.2">65</text>
<text x="204.2" y="948.9" font-size="18.7" fill="#000" text-anchor="middle">Latitude (degrees North)</text>
<rect x="222.6" y="198.4" width="116.4" height="43.6" fill="#fff" stroke="#8C8C8C" stroke-width="0.9"/>
<text transform="translate(308.2,212.6) scale(0.25)" x="0" y="0" font-size="33.6" fill="#1a1a1a" stroke="#1a1a1a" stroke-width="0.88" text-anchor="end" textLength="244.4" lengthAdjust="spacingAndGlyphs">Bicknell’s Thrush</text>
<text transform="translate(308.2,223.2) scale(0.25)" x="0" y="0" font-size="33.6" fill="#1a1a1a" stroke="#1a1a1a" stroke-width="0.88" text-anchor="end" textLength="313.6" lengthAdjust="spacingAndGlyphs">Gray-cheeked Thrush</text>
<text transform="translate(308.2,233.9) scale(0.25)" x="0" y="0" font-size="33.6" fill="#1a1a1a" stroke="#1a1a1a" stroke-width="0.88" text-anchor="end" textLength="256.4" lengthAdjust="spacingAndGlyphs">Both host species</text>
<rect x="312" y="207.3" width="19.4" height="4.6" fill="#AD53CC"/>
<rect x="312" y="217.9" width="19.4" height="5" fill="#1A6C8B"/>
<line x1="313" y1="231.9" x2="332.2" y2="231.9" stroke="#555" stroke-width="1.6" stroke-dasharray="2.8,2.6"/>
</svg></body></html>
